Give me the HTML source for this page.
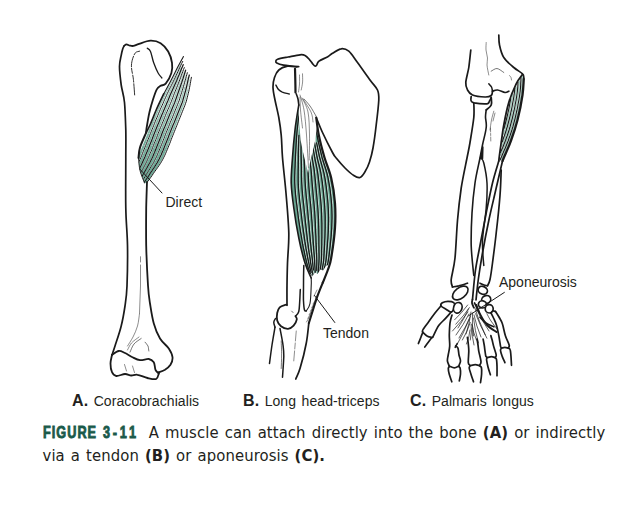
<!DOCTYPE html>
<html lang="en">
<head>
<meta charset="utf-8">
<title>Figure 3-11</title>
<style>
html,body{margin:0;padding:0;background:#fff;}
body{width:632px;height:515px;position:relative;overflow:hidden;font-family:"Liberation Sans",sans-serif;color:#231f20;}
svg{position:absolute;left:0;top:0;display:block;}
.lbl{position:absolute;font-size:14px;line-height:14px;white-space:nowrap;}
.sub{position:absolute;font-size:14px;line-height:16px;white-space:nowrap;word-spacing:1.5px;letter-spacing:0.08px;}
.sub b{font-size:16px;}
.cap{position:absolute;font-family:"DejaVu Sans Condensed","DejaVu Sans","Liberation Sans",sans-serif;font-size:16.5px;line-height:23px;white-space:nowrap;letter-spacing:0.1px;word-spacing:1.2px;}
.fig{position:absolute;left:43px;top:420.75px;-webkit-text-stroke:0.9px #1a5a4a;font-family:"Liberation Sans",sans-serif;font-weight:bold;color:#1a5a4a;font-size:17px;line-height:23px;letter-spacing:1.4px;white-space:nowrap;transform:scaleX(0.745);transform-origin:left center;}
</style>
</head>
<body>
<svg width="632" height="515" viewBox="0 0 632 515" stroke-linecap="round" stroke-linejoin="round">
<clipPath id="cA"><path d="M183.4 56.6L183.1 57.2L182.7 57.8L182.4 58.4L182.1 59.0L181.7 59.6L181.4 60.2L181.1 60.8L180.7 61.4L180.4 62.0L180.1 62.7L179.8 63.3L179.4 63.9L179.1 64.5L178.8 65.1L178.4 65.7L178.1 66.3L177.8 66.9L177.5 67.5L177.2 68.1L176.9 68.8L176.5 69.4L176.2 70.0L175.9 70.6L175.6 71.2L175.3 71.9L175.0 72.5L174.7 73.1L174.4 73.7L174.1 74.3L173.8 75.0L173.5 75.6L173.2 76.2L172.9 76.8L172.6 77.4L172.3 78.0L171.9 78.7L171.6 79.3L171.3 79.9L171.0 80.5L170.7 81.1L170.3 81.7L170.0 82.3L169.7 82.9L169.3 83.5L169.0 84.1L168.7 84.7L168.3 85.3L168.0 85.9L167.6 86.5L167.3 87.1L167.0 87.7L166.6 88.3L166.3 88.9L166.0 89.5L165.6 90.2L165.3 90.8L165.0 91.4L164.7 92.0L164.3 92.6L164.0 93.2L163.7 93.8L163.4 94.4L163.1 95.1L162.8 95.7L162.5 96.3L162.2 96.9L161.9 97.5L161.6 98.2L161.3 98.8L161.0 99.4L160.7 100.0L160.4 100.7L160.1 101.3L159.9 101.9L159.6 102.6L159.3 103.2L159.0 103.8L158.7 104.4L158.4 105.1L158.2 105.7L157.9 106.3L157.6 107.0L157.3 107.6L157.0 108.2L156.8 108.9L156.5 109.5L156.2 110.1L155.9 110.8L155.6 111.4L155.4 112.0L155.1 112.7L154.8 113.3L154.6 113.9L154.3 114.6L154.0 115.2L153.8 115.9L153.5 116.5L153.3 117.1L153.0 117.8L152.7 118.4L152.5 119.0L152.2 119.7L152.0 120.3L151.7 121.0L151.4 121.6L151.2 122.2L150.9 122.9L150.6 123.5L150.4 124.2L150.1 124.8L149.8 125.4L149.5 126.0L149.2 126.7L148.9 127.3L148.6 127.9L148.3 128.5L147.9 129.1L147.6 129.7L147.3 130.3L147.0 130.9L146.7 131.6L146.4 132.2L146.1 132.8L145.8 133.5L145.5 134.1L145.3 134.7L145.0 135.3L144.7 136.0L144.4 136.6L144.1 137.2L143.8 137.9L143.6 138.5L143.3 139.1L143.0 139.8L142.7 140.4L142.5 141.0L142.2 141.7L141.9 142.3L141.7 142.9L141.4 143.6L141.2 144.2L140.9 144.9L140.7 145.5L140.4 146.2L140.2 146.8L140.0 147.5L139.8 148.1L139.6 148.8L139.4 149.5L139.3 150.1L139.1 150.8L139.0 151.5L138.9 152.2L138.8 152.9L138.7 153.5L138.6 154.2L138.6 154.9L138.5 155.6L138.5 156.3L138.5 157.0L138.5 157.7L138.5 158.4L138.5 159.1L138.5 159.7L138.6 160.4L138.6 161.1L138.7 161.8L138.7 162.5L138.8 163.2L138.8 163.9L138.9 164.6L139.0 165.2L139.1 165.9L139.2 166.6L139.3 167.3L139.5 168.0L139.6 168.6L139.7 169.3L139.9 170.0L140.0 170.7L140.2 171.3L140.4 172.0L140.6 172.7L140.8 173.3L141.0 174.0L141.3 174.6L141.5 175.3L141.7 175.9L142.0 176.6L142.2 177.2L142.5 177.9L142.7 178.5L143.0 179.1L143.2 179.8L143.5 180.4L143.7 181.1L144.0 181.7L144.3 182.4L144.5 183.0L210 183L210 50Z"/></clipPath>
<g clip-path="url(#cA)">
<path d="M175.8 73.4L174.9 75.4L173.9 77.4L172.9 79.4" fill="none" stroke="#a8cec2" stroke-width="1.00" stroke-linecap="butt"/>
<path d="M172.9 79.4L171.9 81.4L170.9 83.4L169.8 85.4" fill="none" stroke="#a4cbbf" stroke-width="1.06" stroke-linecap="butt"/>
<path d="M169.8 85.4L168.8 87.4L167.7 89.4L166.7 91.4" fill="none" stroke="#9fc8bb" stroke-width="1.15" stroke-linecap="butt"/>
<path d="M166.7 91.4L165.7 93.4L164.7 95.4L163.8 97.4" fill="none" stroke="#9ac5b8" stroke-width="1.23" stroke-linecap="butt"/>
<path d="M163.8 97.4L162.9 99.4L162.0 101.4L161.1 103.4" fill="none" stroke="#96c2b4" stroke-width="1.32" stroke-linecap="butt"/>
<path d="M161.1 103.4L160.2 105.4L159.3 107.4L158.4 109.4" fill="none" stroke="#91bfb0" stroke-width="1.41" stroke-linecap="butt"/>
<path d="M158.4 109.4L157.6 111.4L156.7 113.4L155.9 115.4" fill="none" stroke="#8cbcad" stroke-width="1.49" stroke-linecap="butt"/>
<path d="M155.9 115.4L155.0 117.4L154.2 119.4L153.4 121.4" fill="none" stroke="#87b9a9" stroke-width="1.58" stroke-linecap="butt"/>
<path d="M153.4 121.4L152.6 123.4L151.8 125.4L151.0 127.4" fill="none" stroke="#82b6a6" stroke-width="1.66" stroke-linecap="butt"/>
<path d="M151.0 127.4L150.1 129.4L149.3 131.4L148.6 133.4" fill="none" stroke="#7eb3a2" stroke-width="1.75" stroke-linecap="butt"/>
<path d="M148.6 133.4L147.8 135.4L147.0 137.4L146.2 139.4" fill="none" stroke="#79b09e" stroke-width="1.83" stroke-linecap="butt"/>
<path d="M146.2 139.4L145.4 141.4L144.6 143.4L143.8 145.4" fill="none" stroke="#74ad9b" stroke-width="1.92" stroke-linecap="butt"/>
<path d="M143.8 145.4L143.0 147.4L142.2 149.4" fill="none" stroke="#70ab98" stroke-width="2.00" stroke-linecap="butt"/>
<path d="M142.3 149.0L141.5 151.0L140.7 153.0L139.9 155.0L139.1 157.0L138.3 159.0L137.5 161.0L136.6 163.0L135.8 165.0L135.0 167.0L134.1 169.0L133.3 171.0L132.4 173.0L131.6 175.0L130.8 177.0L129.9 179.0L129.1 181.0L128.2 183.0L127.4 185.0" fill="none" stroke="#70ab98" stroke-width="2.0" stroke-linecap="butt"/>
<path d="M180.7 63.4L179.7 65.4L178.7 67.4L177.7 69.4L176.7 71.4L175.8 73.4" fill="none" stroke="#c4ddd5" stroke-width="1.1" stroke-linecap="butt"/>
<path d="M176.9 76.7L176.0 78.7L175.1 80.7L174.2 82.7" fill="none" stroke="#a6cdc0" stroke-width="1.02" stroke-linecap="butt"/>
<path d="M174.2 82.7L173.3 84.7L172.3 86.7L171.3 88.7" fill="none" stroke="#a1cabd" stroke-width="1.11" stroke-linecap="butt"/>
<path d="M171.3 88.7L170.4 90.7L169.5 92.7L168.6 94.7" fill="none" stroke="#9dc7b9" stroke-width="1.20" stroke-linecap="butt"/>
<path d="M168.6 94.7L167.7 96.7L166.9 98.7L166.0 100.7" fill="none" stroke="#98c4b6" stroke-width="1.28" stroke-linecap="butt"/>
<path d="M166.0 100.7L165.2 102.7L164.3 104.7L163.4 106.7" fill="none" stroke="#93c1b2" stroke-width="1.37" stroke-linecap="butt"/>
<path d="M163.4 106.7L162.6 108.7L161.7 110.7L160.8 112.7" fill="none" stroke="#8ebeae" stroke-width="1.45" stroke-linecap="butt"/>
<path d="M160.8 112.7L160.0 114.7L159.2 116.7L158.4 118.7" fill="none" stroke="#89bbab" stroke-width="1.54" stroke-linecap="butt"/>
<path d="M158.4 118.7L157.5 120.7L156.7 122.7L155.9 124.7" fill="none" stroke="#85b8a7" stroke-width="1.62" stroke-linecap="butt"/>
<path d="M155.9 124.7L155.1 126.7L154.3 128.7L153.5 130.7" fill="none" stroke="#80b5a4" stroke-width="1.71" stroke-linecap="butt"/>
<path d="M153.5 130.7L152.7 132.7L151.9 134.7L151.1 136.7" fill="none" stroke="#7bb2a0" stroke-width="1.80" stroke-linecap="butt"/>
<path d="M151.1 136.7L150.3 138.7L149.5 140.7L148.7 142.7" fill="none" stroke="#76af9c" stroke-width="1.88" stroke-linecap="butt"/>
<path d="M148.7 142.7L147.9 144.7L147.1 146.7L146.3 148.7" fill="none" stroke="#71ac99" stroke-width="1.97" stroke-linecap="butt"/>
<path d="M146.3 148.7L145.5 150.7" fill="none" stroke="#70ab98" stroke-width="2.00" stroke-linecap="butt"/>
<path d="M146.2 149.0L145.4 151.0L144.6 153.0L143.8 155.0L142.9 157.0L142.1 159.0L141.2 161.0L140.3 163.0L139.4 165.0L138.5 167.0L137.6 169.0L136.6 171.0L135.7 173.0L134.8 175.0L133.9 177.0L132.9 179.0L132.0 181.0L131.0 183.0L130.1 185.0" fill="none" stroke="#70ab98" stroke-width="2.0" stroke-linecap="butt"/>
<path d="M181.3 66.7L180.4 68.7L179.5 70.7L178.6 72.7L177.8 74.7L176.9 76.7" fill="none" stroke="#c4ddd5" stroke-width="1.1" stroke-linecap="butt"/>
<path d="M178.4 79.6L177.6 81.6L176.8 83.6L176.0 85.6" fill="none" stroke="#a4cbbf" stroke-width="1.07" stroke-linecap="butt"/>
<path d="M176.0 85.6L175.1 87.6L174.2 89.6L173.4 91.6" fill="none" stroke="#9fc8bb" stroke-width="1.15" stroke-linecap="butt"/>
<path d="M173.4 91.6L172.6 93.6L171.8 95.6L171.0 97.6" fill="none" stroke="#9ac5b8" stroke-width="1.24" stroke-linecap="butt"/>
<path d="M171.0 97.6L170.2 99.6L169.4 101.6L168.6 103.6" fill="none" stroke="#95c2b4" stroke-width="1.32" stroke-linecap="butt"/>
<path d="M168.6 103.6L167.7 105.6L166.9 107.6L166.0 109.6" fill="none" stroke="#91bfb0" stroke-width="1.41" stroke-linecap="butt"/>
<path d="M166.0 109.6L165.2 111.6L164.3 113.6L163.5 115.6" fill="none" stroke="#8cbcad" stroke-width="1.49" stroke-linecap="butt"/>
<path d="M163.5 115.6L162.7 117.6L161.9 119.6L161.0 121.6" fill="none" stroke="#87b9a9" stroke-width="1.58" stroke-linecap="butt"/>
<path d="M161.0 121.6L160.2 123.6L159.4 125.6L158.6 127.6" fill="none" stroke="#82b6a6" stroke-width="1.67" stroke-linecap="butt"/>
<path d="M158.6 127.6L157.8 129.6L157.0 131.6L156.2 133.6" fill="none" stroke="#7db3a2" stroke-width="1.75" stroke-linecap="butt"/>
<path d="M156.2 133.6L155.4 135.6L154.6 137.6L153.8 139.6" fill="none" stroke="#79b09e" stroke-width="1.84" stroke-linecap="butt"/>
<path d="M153.8 139.6L153.0 141.6L152.3 143.6L151.5 145.6" fill="none" stroke="#74ad9b" stroke-width="1.92" stroke-linecap="butt"/>
<path d="M151.5 145.6L150.7 147.6L149.9 149.6" fill="none" stroke="#70ab98" stroke-width="2.00" stroke-linecap="butt"/>
<path d="M150.1 149.0L149.3 151.0L148.4 153.0L147.6 155.0L146.8 157.0L145.9 159.0L145.0 161.0L144.0 163.0L143.1 165.0L142.1 167.0L141.0 169.0L140.0 171.0L139.0 173.0L138.0 175.0L137.0 177.0L136.0 179.0L134.9 181.0L133.9 183.0L132.8 185.0" fill="none" stroke="#70ab98" stroke-width="2.0" stroke-linecap="butt"/>
<path d="M182.3 69.6L181.6 71.6L180.8 73.6L180.0 75.6L179.2 77.6L178.4 79.6" fill="none" stroke="#c4ddd5" stroke-width="1.1" stroke-linecap="butt"/>
<path d="M180.3 82.2L179.6 84.2L178.8 86.2L178.1 88.2" fill="none" stroke="#a2cabd" stroke-width="1.10" stroke-linecap="butt"/>
<path d="M178.1 88.2L177.3 90.2L176.6 92.2L175.8 94.2" fill="none" stroke="#9dc7ba" stroke-width="1.19" stroke-linecap="butt"/>
<path d="M175.8 94.2L175.1 96.2L174.3 98.2L173.6 100.2" fill="none" stroke="#98c4b6" stroke-width="1.27" stroke-linecap="butt"/>
<path d="M173.6 100.2L172.9 102.2L172.1 104.2L171.2 106.2" fill="none" stroke="#93c1b2" stroke-width="1.36" stroke-linecap="butt"/>
<path d="M171.2 106.2L170.4 108.2L169.6 110.2L168.7 112.2" fill="none" stroke="#8fbeaf" stroke-width="1.45" stroke-linecap="butt"/>
<path d="M168.7 112.2L167.9 114.2L167.1 116.2L166.3 118.2" fill="none" stroke="#8abbab" stroke-width="1.53" stroke-linecap="butt"/>
<path d="M166.3 118.2L165.5 120.2L164.6 122.2L163.8 124.2" fill="none" stroke="#85b8a8" stroke-width="1.62" stroke-linecap="butt"/>
<path d="M163.8 124.2L163.0 126.2L162.2 128.2L161.4 130.2" fill="none" stroke="#80b5a4" stroke-width="1.70" stroke-linecap="butt"/>
<path d="M161.4 130.2L160.6 132.2L159.8 134.2L159.0 136.2" fill="none" stroke="#7bb2a0" stroke-width="1.79" stroke-linecap="butt"/>
<path d="M159.0 136.2L158.2 138.2L157.5 140.2L156.7 142.2" fill="none" stroke="#77af9d" stroke-width="1.87" stroke-linecap="butt"/>
<path d="M156.7 142.2L155.9 144.2L155.1 146.2L154.3 148.2" fill="none" stroke="#72ac99" stroke-width="1.96" stroke-linecap="butt"/>
<path d="M154.3 148.2L153.5 150.2" fill="none" stroke="#70ab98" stroke-width="2.00" stroke-linecap="butt"/>
<path d="M154.0 149.0L153.1 151.0L152.3 153.0L151.5 155.0L150.6 157.0L149.7 159.0L148.7 161.0L147.7 163.0L146.7 165.0L145.6 167.0L144.5 169.0L143.4 171.0L142.3 173.0L141.2 175.0L140.1 177.0L139.0 179.0L137.8 181.0L136.7 183.0L135.5 185.0" fill="none" stroke="#70ab98" stroke-width="2.0" stroke-linecap="butt"/>
<path d="M183.8 72.2L183.1 74.2L182.4 76.2L181.7 78.2L181.0 80.2L180.3 82.2" fill="none" stroke="#c4ddd5" stroke-width="1.1" stroke-linecap="butt"/>
<path d="M182.5 84.7L181.8 86.7L181.2 88.7L180.5 90.7" fill="none" stroke="#a0c9bc" stroke-width="1.14" stroke-linecap="butt"/>
<path d="M180.5 90.7L179.8 92.7L179.2 94.7L178.5 96.7" fill="none" stroke="#9bc6b8" stroke-width="1.22" stroke-linecap="butt"/>
<path d="M178.5 96.7L177.8 98.7L177.2 100.7L176.5 102.7" fill="none" stroke="#96c3b4" stroke-width="1.31" stroke-linecap="butt"/>
<path d="M176.5 102.7L175.7 104.7L174.8 106.7L174.0 108.7" fill="none" stroke="#91c0b1" stroke-width="1.40" stroke-linecap="butt"/>
<path d="M174.0 108.7L173.2 110.7L172.4 112.7L171.6 114.7" fill="none" stroke="#8dbdad" stroke-width="1.48" stroke-linecap="butt"/>
<path d="M171.6 114.7L170.7 116.7L169.9 118.7L169.1 120.7" fill="none" stroke="#88baaa" stroke-width="1.57" stroke-linecap="butt"/>
<path d="M169.1 120.7L168.3 122.7L167.5 124.7L166.7 126.7" fill="none" stroke="#83b7a6" stroke-width="1.65" stroke-linecap="butt"/>
<path d="M166.7 126.7L165.9 128.7L165.1 130.7L164.3 132.7" fill="none" stroke="#7eb4a2" stroke-width="1.74" stroke-linecap="butt"/>
<path d="M164.3 132.7L163.5 134.7L162.7 136.7L161.9 138.7" fill="none" stroke="#79b19f" stroke-width="1.82" stroke-linecap="butt"/>
<path d="M161.9 138.7L161.1 140.7L160.3 142.7L159.6 144.7" fill="none" stroke="#75ae9b" stroke-width="1.91" stroke-linecap="butt"/>
<path d="M159.6 144.7L158.8 146.7L158.0 148.7L157.1 150.7" fill="none" stroke="#70ab98" stroke-width="2.00" stroke-linecap="butt"/>
<path d="M157.8 149.0L157.0 151.0L156.2 153.0L155.3 155.0L154.4 157.0L153.5 159.0L152.5 161.0L151.4 163.0L150.3 165.0L149.2 167.0L148.0 169.0L146.7 171.0L145.6 173.0L144.4 175.0L143.2 177.0L142.0 179.0L140.8 181.0L139.5 183.0L138.2 185.0" fill="none" stroke="#70ab98" stroke-width="2.0" stroke-linecap="butt"/>
<path d="M185.5 74.7L184.9 76.7L184.3 78.7L183.7 80.7L183.1 82.7L182.5 84.7" fill="none" stroke="#c4ddd5" stroke-width="1.1" stroke-linecap="butt"/>
<path d="M184.9 87.0L184.3 89.0L183.8 91.0L183.2 93.0" fill="none" stroke="#9ec7ba" stroke-width="1.17" stroke-linecap="butt"/>
<path d="M183.2 93.0L182.6 95.0L182.0 97.0L181.4 99.0" fill="none" stroke="#99c4b7" stroke-width="1.26" stroke-linecap="butt"/>
<path d="M181.4 99.0L180.8 101.0L180.1 103.0L179.3 105.0" fill="none" stroke="#94c1b3" stroke-width="1.34" stroke-linecap="butt"/>
<path d="M179.3 105.0L178.5 107.0L177.7 109.0L176.9 111.0" fill="none" stroke="#8fbeaf" stroke-width="1.43" stroke-linecap="butt"/>
<path d="M176.9 111.0L176.1 113.0L175.3 115.0L174.5 117.0" fill="none" stroke="#8bbbac" stroke-width="1.51" stroke-linecap="butt"/>
<path d="M174.5 117.0L173.6 119.0L172.8 121.0L172.0 123.0" fill="none" stroke="#86b8a8" stroke-width="1.60" stroke-linecap="butt"/>
<path d="M172.0 123.0L171.2 125.0L170.4 127.0L169.6 129.0" fill="none" stroke="#81b5a5" stroke-width="1.69" stroke-linecap="butt"/>
<path d="M169.6 129.0L168.8 131.0L168.0 133.0L167.2 135.0" fill="none" stroke="#7cb2a1" stroke-width="1.77" stroke-linecap="butt"/>
<path d="M167.2 135.0L166.4 137.0L165.6 139.0L164.9 141.0" fill="none" stroke="#77af9d" stroke-width="1.86" stroke-linecap="butt"/>
<path d="M164.9 141.0L164.1 143.0L163.3 145.0L162.5 147.0" fill="none" stroke="#73ac9a" stroke-width="1.94" stroke-linecap="butt"/>
<path d="M162.5 147.0L161.7 149.0" fill="none" stroke="#70ab98" stroke-width="2.00" stroke-linecap="butt"/>
<path d="M161.7 149.0L160.9 151.0L160.0 153.0L159.2 155.0L158.2 157.0L157.3 159.0L156.3 161.0L155.1 163.0L154.0 165.0L152.7 167.0L151.4 169.0L150.1 171.0L148.8 173.0L147.6 175.0L146.3 177.0L145.0 179.0L143.7 181.0L142.3 183.0L140.9 185.0" fill="none" stroke="#70ab98" stroke-width="2.0" stroke-linecap="butt"/>
<path d="M187.4 77.0L186.9 79.0L186.4 81.0L185.9 83.0L185.4 85.0L184.9 87.0" fill="none" stroke="#c4ddd5" stroke-width="1.1" stroke-linecap="butt"/>
<path d="M187.6 89.3L187.1 91.3L186.6 93.3L186.1 95.3" fill="none" stroke="#9cc6b9" stroke-width="1.20" stroke-linecap="butt"/>
<path d="M186.1 95.3L185.5 97.3L185.0 99.3L184.5 101.3" fill="none" stroke="#97c3b5" stroke-width="1.29" stroke-linecap="butt"/>
<path d="M184.5 101.3L183.8 103.3L183.0 105.3L182.2 107.3" fill="none" stroke="#92c0b2" stroke-width="1.38" stroke-linecap="butt"/>
<path d="M182.2 107.3L181.4 109.3L180.6 111.3L179.8 113.3" fill="none" stroke="#8ebdae" stroke-width="1.46" stroke-linecap="butt"/>
<path d="M179.8 113.3L179.0 115.3L178.2 117.3L177.4 119.3" fill="none" stroke="#89baab" stroke-width="1.55" stroke-linecap="butt"/>
<path d="M177.4 119.3L176.6 121.3L175.8 123.3L175.0 125.3" fill="none" stroke="#84b7a7" stroke-width="1.63" stroke-linecap="butt"/>
<path d="M175.0 125.3L174.2 127.3L173.4 129.3L172.5 131.3" fill="none" stroke="#7fb4a3" stroke-width="1.72" stroke-linecap="butt"/>
<path d="M172.5 131.3L171.8 133.3L171.0 135.3L170.2 137.3" fill="none" stroke="#7ab1a0" stroke-width="1.80" stroke-linecap="butt"/>
<path d="M170.2 137.3L169.4 139.3L168.6 141.3L167.8 143.3" fill="none" stroke="#76ae9c" stroke-width="1.89" stroke-linecap="butt"/>
<path d="M167.8 143.3L167.1 145.3L166.3 147.3L165.4 149.3" fill="none" stroke="#71ab99" stroke-width="1.98" stroke-linecap="butt"/>
<path d="M165.4 149.3" fill="none" stroke="#70ab98" stroke-width="2.00" stroke-linecap="butt"/>
<path d="M165.6 149.0L164.7 151.0L163.9 153.0L163.0 155.0L162.1 157.0L161.1 159.0L160.0 161.0L158.8 163.0L157.6 165.0L156.3 167.0L154.9 169.0L153.5 171.0L152.1 173.0L150.8 175.0L149.4 177.0L148.0 179.0L146.6 181.0L145.1 183.0L143.6 185.0" fill="none" stroke="#70ab98" stroke-width="2.0" stroke-linecap="butt"/>
<path d="M189.6 79.3L189.2 81.3L188.9 83.3L188.5 85.3L188.0 87.3L187.6 89.3" fill="none" stroke="#c4ddd5" stroke-width="1.1" stroke-linecap="butt"/>
<path d="M182.7 61.4L181.7 63.4L180.8 65.4L179.8 67.4L178.9 69.4L178.0 71.4L177.1 73.4L176.2 75.4L175.3 77.4L174.3 79.4L173.4 81.4L172.4 83.4L171.4 85.4L170.4 87.4L169.3 89.4L168.4 91.4L167.4 93.4L166.5 95.4L165.6 97.4L164.7 99.4L163.8 101.4L163.0 103.4L162.1 105.4L161.2 107.4L160.3 109.4L159.5 111.4L158.6 113.4L157.8 115.4L157.0 117.4L156.1 119.4L155.3 121.4L154.5 123.4L153.7 125.4L152.9 127.4L152.1 129.4L151.3 131.4L150.5 133.4L149.7 135.4L148.9 137.4L148.1 139.4L147.3 141.4L146.5 143.4L145.7 145.4L144.9 147.4L144.1 149.4L143.3 151.4L142.5 153.4L141.7 155.4L140.9 157.4L140.0 159.4L139.2 161.4L138.3 163.4L137.4 165.4L136.6 167.4L135.7 169.4L134.8 171.4L133.9 173.4L133.0 175.4L132.1 177.4L131.2 179.4L130.3 181.4L129.4 183.4L128.5 185.4" fill="none" stroke="#1a1a1a" stroke-width="1.0" />
<path d="M183.2 64.7L182.4 66.7L181.5 68.7L180.7 70.7L179.9 72.7L179.1 74.7L178.2 76.7L177.4 78.7L176.6 80.7L175.7 82.7L174.8 84.7L173.9 86.7L173.0 88.7L172.1 90.7L171.2 92.7L170.3 94.7L169.5 96.7L168.7 98.7L167.9 100.7L167.0 102.7L166.2 104.7L165.3 106.7L164.5 108.7L163.6 110.7L162.8 112.7L161.9 114.7L161.1 116.7L160.3 118.7L159.5 120.7L158.7 122.7L157.8 124.7L157.0 126.7L156.2 128.7L155.4 130.7L154.6 132.7L153.8 134.7L153.0 136.7L152.3 138.7L151.5 140.7L150.7 142.7L149.9 144.7L149.1 146.7L148.3 148.7L147.5 150.7L146.6 152.7L145.8 154.7L145.0 156.7L144.1 158.7L143.2 160.7L142.3 162.7L141.4 164.7L140.4 166.7L139.5 168.7L138.5 170.7L137.5 172.7L136.5 174.7L135.6 176.7L134.6 178.7L133.6 180.7L132.6 182.7L131.6 184.7" fill="none" stroke="#1a1a1a" stroke-width="1.25" />
<path d="M184.3 67.6L183.5 69.6L182.8 71.6L182.0 73.6L181.3 75.6L180.6 77.6L179.8 79.6L179.1 81.6L178.3 83.6L177.5 85.6L176.7 87.6L175.9 89.6L175.1 91.6L174.3 93.6L173.5 95.6L172.8 97.6L172.0 99.6L171.3 101.6L170.4 103.6L169.6 105.6L168.8 107.6L167.9 109.6L167.1 111.6L166.2 113.6L165.4 115.6L164.6 117.6L163.8 119.6L163.0 121.6L162.2 123.6L161.4 125.6L160.5 127.6L159.7 129.6L158.9 131.6L158.1 133.6L157.4 135.6L156.6 137.6L155.8 139.6L155.0 141.6L154.2 143.6L153.4 145.6L152.6 147.6L151.8 149.6L151.0 151.6L150.1 153.6L149.3 155.6L148.4 157.6L147.5 159.6L146.6 161.6L145.6 163.6L144.6 165.6L143.5 167.6L142.5 169.6L141.4 171.6L140.3 173.6L139.3 175.6L138.2 177.6L137.2 179.6L136.1 181.6L134.9 183.6L133.8 185.6" fill="none" stroke="#1a1a1a" stroke-width="1.0" />
<path d="M185.6 70.2L185.0 72.2L184.4 74.2L183.7 76.2L183.1 78.2L182.4 80.2L181.8 82.2L181.1 84.2L180.4 86.2L179.7 88.2L179.0 90.2L178.3 92.2L177.6 94.2L176.9 96.2L176.2 98.2L175.5 100.2L174.8 102.2L174.0 104.2L173.1 106.2L172.3 108.2L171.5 110.2L170.7 112.2L169.8 114.2L169.0 116.2L168.2 118.2L167.4 120.2L166.6 122.2L165.8 124.2L165.0 126.2L164.1 128.2L163.3 130.2L162.5 132.2L161.7 134.2L161.0 136.2L160.2 138.2L159.4 140.2L158.6 142.2L157.8 144.2L157.0 146.2L156.2 148.2L155.4 150.2L154.6 152.2L153.7 154.2L152.9 156.2L152.0 158.2L151.0 160.2L150.0 162.2L148.9 164.2L147.8 166.2L146.7 168.2L145.5 170.2L144.4 172.2L143.2 174.2L142.1 176.2L141.0 178.2L139.8 180.2L138.6 182.2L137.3 184.2" fill="none" stroke="#1a1a1a" stroke-width="1.25" />
<path d="M187.3 72.7L186.8 74.7L186.2 76.7L185.7 78.7L185.1 80.7L184.5 82.7L184.0 84.7L183.4 86.7L182.8 88.7L182.2 90.7L181.6 92.7L180.9 94.7L180.3 96.7L179.7 98.7L179.1 100.7L178.3 102.7L177.5 104.7L176.7 106.7L175.9 108.7L175.1 110.7L174.3 112.7L173.5 114.7L172.7 116.7L171.9 118.7L171.0 120.7L170.2 122.7L169.4 124.7L168.6 126.7L167.8 128.7L167.0 130.7L166.2 132.7L165.4 134.7L164.6 136.7L163.9 138.7L163.1 140.7L162.3 142.7L161.5 144.7L160.7 146.7L159.9 148.7L159.1 150.7L158.2 152.7L157.4 154.7L156.5 156.7L155.5 158.7L154.5 160.7L153.5 162.7L152.3 164.7L151.1 166.7L149.9 168.7L148.6 170.7L147.4 172.7L146.2 174.7L145.0 176.7L143.7 178.7L142.4 180.7L141.1 182.7L139.8 184.7" fill="none" stroke="#1a1a1a" stroke-width="1.0" />
<path d="M189.3 75.0L188.8 77.0L188.3 79.0L187.9 81.0L187.4 83.0L187.0 85.0L186.5 87.0L186.0 89.0L185.5 91.0L184.9 93.0L184.4 95.0L183.8 97.0L183.2 99.0L182.7 101.0L182.0 103.0L181.2 105.0L180.4 107.0L179.6 109.0L178.8 111.0L178.0 113.0L177.2 115.0L176.4 117.0L175.6 119.0L174.8 121.0L174.0 123.0L173.1 125.0L172.3 127.0L171.5 129.0L170.7 131.0L169.9 133.0L169.1 135.0L168.4 137.0L167.6 139.0L166.8 141.0L166.0 143.0L165.2 145.0L164.4 147.0L163.6 149.0L162.8 151.0L161.9 153.0L161.1 155.0L160.1 157.0L159.2 159.0L158.1 161.0L157.0 163.0L155.7 165.0L154.5 167.0L153.1 169.0L151.8 171.0L150.4 173.0L149.2 175.0L147.9 177.0L146.5 179.0L145.1 181.0L143.7 183.0L142.2 185.0" fill="none" stroke="#1a1a1a" stroke-width="1.25" />
<path d="M191.4 77.3L191.0 79.3L190.7 81.3L190.3 83.3L190.0 85.3L189.6 87.3L189.2 89.3L188.8 91.3L188.3 93.3L187.8 95.3L187.3 97.3L186.8 99.3L186.3 101.3L185.6 103.3L184.9 105.3L184.1 107.3L183.3 109.3L182.5 111.3L181.7 113.3L180.9 115.3L180.1 117.3L179.3 119.3L178.5 121.3L177.7 123.3L176.9 125.3L176.1 127.3L175.3 129.3L174.5 131.3L173.7 133.3L172.9 135.3L172.1 137.3L171.3 139.3L170.6 141.3L169.8 143.3L169.0 145.3L168.2 147.3L167.4 149.3L166.5 151.3L165.7 153.3L164.8 155.3L163.8 157.3L162.8 159.3L161.7 161.3L160.5 163.3L159.2 165.3L157.8 167.3L156.4 169.3L154.9 171.3L153.5 173.3L152.2 175.3L150.8 177.3L149.3 179.3L147.8 181.3L146.3 183.3L144.7 185.3" fill="none" stroke="#1a1a1a" stroke-width="1.0" />
</g>
<path d="M183.4 56.6C182.4 58.4 179.5 63.6 177.5 67.5C175.5 71.4 173.5 75.6 171.2 80.0C169.0 84.4 165.0 91.5 163.8 93.8" fill="none" stroke="#1a1a1a" stroke-width="1.1" />
<path d="M163.8 93.8C162.5 96.5 158.5 104.8 156.2 110.0C154.0 115.2 151.7 121.2 150.0 125.0C148.3 128.8 146.9 131.2 146.2 132.5" fill="none" stroke="#1a1a1a" stroke-width="1.7" />
<path d="M146.2 132.5C145.2 135.0 141.3 143.2 140.0 147.5C138.7 151.8 138.8 156.2 138.5 158.0" fill="none" stroke="#1a1a1a" stroke-width="2.0" />
<path d="M138.5 158.0C138.8 160.1 139.0 166.3 140.0 170.5C141.0 174.7 143.8 180.9 144.5 183.0" fill="none" stroke="#1a1a1a" stroke-width="0.9" />
<path d="M112.0 354.8C112.5 353.3 113.5 350.8 115.0 346.0C116.5 341.2 119.6 332.7 121.2 326.0C122.9 319.3 124.0 312.7 125.0 306.0C126.0 299.3 126.6 296.1 127.0 286.0C127.4 275.9 127.7 258.5 127.5 245.5C127.3 232.5 126.0 222.6 125.8 208.0C125.5 193.4 125.8 171.0 125.8 158.0C125.8 145.0 126.0 139.2 125.8 130.0C125.5 120.8 125.2 110.0 124.5 102.5C123.8 95.0 122.1 91.0 121.2 85.0C120.4 79.0 119.5 71.5 119.5 66.6C119.5 61.6 120.7 58.2 121.2 55.3C121.7 52.3 122.2 50.5 122.7 48.9C123.2 47.3 124.0 46.3 124.2 45.8" fill="none" stroke="#1a1a1a" stroke-width="1.7" />
<path d="M124.2 45.8C124.6 45.6 125.5 44.4 126.5 44.4C127.5 44.4 128.8 45.4 130.0 45.6C131.2 45.9 131.9 46.2 133.4 45.9C134.9 45.6 136.2 44.8 139.1 43.9C141.9 43.0 146.9 40.8 150.5 40.7C154.1 40.6 157.7 41.4 160.6 43.2C163.5 45.0 166.3 48.2 168.2 51.5C170.1 54.8 171.5 59.2 172.0 62.8C172.5 66.4 172.5 69.5 171.4 73.0C170.3 76.5 167.5 81.6 165.7 83.7C163.9 85.8 162.1 84.8 160.6 85.8C159.1 86.8 158.1 87.1 156.8 89.4C155.5 91.7 154.2 95.8 153.0 99.6C151.8 103.4 150.4 108.2 149.5 112.0C148.6 115.8 148.1 119.1 147.5 122.5C146.9 125.9 146.2 130.8 146.0 132.5" fill="none" stroke="#1a1a1a" stroke-width="1.8" />
<path d="M147.0 181.8C146.9 186.1 146.4 197.4 146.2 208.0C146.1 218.6 146.0 232.6 146.2 245.5C146.5 258.4 147.4 275.8 148.0 285.5C148.6 295.2 149.0 297.2 150.0 303.5C151.0 309.8 152.1 317.7 153.8 323.5C155.4 329.3 157.5 334.3 160.0 338.5C162.5 342.7 166.7 345.4 168.8 348.5C170.8 351.6 172.2 354.5 172.5 357.2C172.8 360.0 171.8 362.7 170.5 364.8C169.2 366.8 167.0 368.5 165.0 369.8C163.0 371.0 159.8 371.8 158.8 372.2" fill="none" stroke="#1a1a1a" stroke-width="1.8" />
<path d="M112.0 354.8C111.8 356.2 110.5 360.6 110.5 363.5C110.5 366.4 111.0 370.2 112.0 372.2C113.0 374.3 114.1 375.7 116.2 376.0C118.4 376.3 122.5 374.1 125.0 374.0C127.5 373.9 129.2 375.4 131.2 375.5C133.3 375.6 134.8 374.3 137.5 374.8C140.2 375.2 144.4 377.3 147.5 378.0C150.6 378.7 154.4 379.8 156.2 379.0C158.1 378.2 158.3 374.4 158.8 373.5" fill="none" stroke="#1a1a1a" stroke-width="1.8" />
<path d="M112.0 354.8C113.1 354.1 116.6 351.3 118.8 351.0C120.9 350.7 122.7 352.0 125.0 353.0C127.3 354.0 130.0 356.0 132.5 357.2C135.0 358.5 137.3 360.0 140.0 360.2C142.7 360.5 146.5 358.7 148.8 359.0C151.0 359.3 152.6 360.5 153.8 362.2C154.9 364.0 154.7 367.9 155.5 369.8C156.3 371.6 158.2 372.9 158.8 373.5" fill="none" stroke="#1a1a1a" stroke-width="1.8" />
<path d="M139.7 51.2C139.0 51.5 136.6 51.4 135.3 52.9C134.1 54.4 132.8 57.8 132.2 60.3C131.6 62.8 131.3 64.7 131.5 67.9C131.7 71.1 132.9 74.7 133.4 79.3C133.9 83.9 134.5 93.0 134.7 95.8" fill="none" stroke="#1a1a1a" stroke-width="0.9" stroke-dasharray="7 1.5 11 1.5 5 2"/>
<path d="M147.3 48.3C147.8 48.8 149.4 49.1 150.5 51.5C151.6 53.9 152.4 59.2 153.7 62.8C155.0 66.4 156.7 70.5 158.1 73.0C159.5 75.5 161.3 77.2 161.9 78.0" fill="none" stroke="#1a1a1a" stroke-width="1.3" />
<path d="M140.5 256.75L140.5 262M140.5 265L140.5 286L139.5 313" fill="none" stroke="#1a1a1a" stroke-width="0.5" />
<path d="M139.5 313.5C139.2 315.6 138.6 322.1 137.5 326.0C136.4 329.9 134.7 333.7 133.0 337.0C131.3 340.3 128.4 344.5 127.5 346.0" fill="none" stroke="#1a1a1a" stroke-width="0.5" />
<path d="M141.2 338.5C140.0 339.4 135.9 341.7 134.0 344.0C132.1 346.3 130.7 350.9 130.0 352.2" fill="none" stroke="#1a1a1a" stroke-width="0.6" />
<path d="M139.0 337.0C137.8 338.0 133.4 340.8 131.5 343.0C129.6 345.2 128.2 348.8 127.5 350.0" fill="none" stroke="#1a1a1a" stroke-width="0.5" />
<path d="M145.0 342.2C145.5 342.9 147.4 344.5 148.0 346.0C148.6 347.5 148.6 350.2 148.8 351.0" fill="none" stroke="#1a1a1a" stroke-width="0.6" />
<path d="M124.5 364.5L126.5 371M132.5 366L134.5 372.5" fill="none" stroke="#1a1a1a" stroke-width="0.5" />
<path d="M140 169.25L162 193" fill="none" stroke="#1a1a1a" stroke-width="1.0" />
<path d="M316.2 117.5C317.3 120.0 319.8 126.7 322.5 132.5C325.2 138.3 330.2 148.2 332.5 152.5C334.8 156.8 334.2 155.4 336.2 158.0C338.3 160.6 342.1 165.1 345.0 168.0C347.9 170.9 351.2 173.9 353.8 175.5C356.2 177.1 358.1 178.1 360.0 177.5C361.9 176.9 363.4 174.3 365.0 171.8C366.6 169.2 368.2 166.0 369.5 162.0C370.8 158.0 371.9 154.2 373.0 148.0C374.1 141.8 375.3 133.0 376.2 125.0C377.2 117.0 378.5 105.8 378.8 100.0C379.0 94.2 379.0 93.3 377.5 90.0C376.0 86.7 373.3 84.6 370.0 80.0C366.7 75.4 361.0 67.3 357.5 62.5C354.0 57.7 351.5 53.5 348.8 51.2C346.0 49.0 344.0 48.4 341.2 48.8C338.5 49.1 334.7 52.0 332.5 53.3C330.3 54.6 330.1 55.4 327.8 56.7C325.6 58.0 320.8 59.8 319.0 61.1C317.2 62.5 317.4 63.9 316.8 64.8C316.2 65.6 315.8 66.3 315.2 66.2C314.6 66.1 314.0 65.5 313.0 64.3C312.0 63.1 310.3 60.5 309.0 59.0C307.7 57.5 306.5 56.1 305.0 55.4C303.5 54.7 302.8 54.5 300.0 54.8C297.2 55.1 291.7 56.3 288.0 57.0C284.3 57.7 279.6 58.5 277.6 59.2C275.6 59.9 276.0 60.5 275.9 61.1C275.8 61.7 275.5 62.3 276.8 63.0C278.1 63.7 281.1 64.7 283.5 65.2C285.9 65.7 288.5 65.8 291.0 66.0C293.5 66.2 297.4 66.5 298.7 66.6" fill="none" stroke="#1a1a1a" stroke-width="1.7" />
<path d="M297.0 67.0C295.4 66.9 290.5 65.8 287.5 66.2C284.5 66.8 280.9 68.1 278.8 70.0C276.6 71.9 275.5 74.6 274.5 77.5C273.5 80.4 272.9 83.8 273.0 87.5C273.1 91.2 274.0 95.0 275.0 100.0C276.0 105.0 277.7 111.7 278.8 117.5C279.8 123.3 280.6 128.3 281.2 135.0C281.9 141.7 281.7 147.4 282.5 157.5C283.3 167.6 285.2 182.9 286.2 195.5C287.3 208.1 288.5 221.8 288.8 233.0C289.0 244.2 287.8 254.2 287.5 263.0C287.2 271.8 287.1 278.5 287.0 285.5C286.9 292.5 287.0 301.5 287.0 304.8" fill="none" stroke="#1a1a1a" stroke-width="1.7" />
<path d="M275.9 85.1C276.3 85.8 277.4 88.3 278.5 89.5C279.6 90.7 280.5 91.3 282.3 92.1C284.1 92.8 288.1 93.7 289.2 94.0" fill="none" stroke="#1a1a1a" stroke-width="1.4" />
<path d="M295.0 68.8C295.1 70.6 295.2 76.0 295.3 80.0C295.4 84.0 295.5 90.4 295.5 92.5" fill="none" stroke="#1a1a1a" stroke-width="2.2" />
<path d="M302.5 73.8C302.5 75.1 302.8 79.3 302.6 82.0C302.4 84.7 301.5 88.7 301.2 90.0" fill="none" stroke="#1a1a1a" stroke-width="0.5" />
<path d="M299.5 75.0C299.5 76.5 299.7 81.2 299.5 84.0C299.3 86.8 298.7 90.7 298.5 92.0" fill="none" stroke="#1a1a1a" stroke-width="0.5" />
<path d="M298.8 105.0L298.2 108.5L297.6 112.1L297.1 115.6L296.5 119.2L296.0 122.7L295.5 126.3L295.0 129.9L294.6 133.4L294.2 137.0L293.9 140.6L293.6 144.2L293.2 147.7L293.0 151.3L292.7 154.9L292.4 158.5L292.2 162.1L291.9 165.7L291.6 169.2L291.4 172.8L291.3 176.4L291.2 180.0L291.3 183.6L291.4 187.2L291.7 190.8L292.0 194.3L292.4 197.9L292.9 201.5L293.3 205.0L293.8 208.6L294.3 212.2L294.9 215.7L295.4 219.3L296.0 222.8L296.6 226.4L297.2 229.9L297.9 233.4L298.5 237.0L299.3 240.5L300.0 244.0L300.8 247.5L301.7 251.0L302.6 254.5L303.5 257.9L304.5 261.4L305.6 264.8L306.9 268.2L308.3 271.5L309.7 274.7L311.2 278.0L322.8 282.7L324.1 279.5L325.4 276.3L326.7 273.1L327.9 269.8L329.1 266.6L330.1 263.3L330.9 260.0L331.5 256.6L332.0 253.1L332.5 249.7L333.0 246.3L333.5 242.9L333.9 239.5L334.3 236.0L334.6 232.6L334.9 229.1L335.1 225.7L335.3 222.2L335.4 218.8L335.5 215.3L335.4 211.9L335.3 208.4L335.1 205.0L334.9 201.5L334.6 198.1L334.2 194.7L333.7 191.3L333.2 187.8L332.6 184.4L331.9 181.0L331.2 177.7L330.3 174.3L329.2 171.0L328.1 167.8L326.9 164.6L325.7 161.3L324.7 158.0L323.7 154.7L322.8 151.4L321.9 148.0L321.0 144.7L320.2 141.3L319.4 138.0L318.7 134.6L318.1 131.2L317.5 127.8L317.1 124.4L316.7 120.9L316.2 117.5Z" fill="#68a591" stroke="none" stroke-width="0" />
<path d="M301.2 106.0L300.7 109.6L300.2 113.1L299.8 116.7L299.3 120.2L298.9 123.7L298.5 127.3L298.1 130.8L297.8 134.4L297.5 137.9L297.3 141.5L297.1 145.0L296.9 148.6L296.7 152.2L296.5 155.7L296.4 159.3L296.2 162.8L296.1 166.4L295.9 169.9L295.8 173.5L295.7 177.1L295.7 180.7L295.8 184.2L296.0 187.8L296.3 191.4L296.6 194.9L297.0 198.5L297.4 202.1L297.9 205.6L298.3 209.2L298.8 212.7L299.2 216.3L299.7 219.8L300.2 223.3L300.8 226.9L301.3 230.4L301.9 233.9L302.5 237.4L303.1 241.0L303.7 244.5L304.4 248.0L305.2 251.4L305.9 254.9L306.7 258.4L307.5 261.8L308.4 265.2L309.5 268.6L310.7 271.9L311.9 275.1L313.2 278.4" fill="none" stroke="#fff" stroke-width="0.7" />
<path d="M300.2 106.0L299.7 109.6L299.2 113.1L298.8 116.7L298.3 120.2L297.9 123.7L297.5 127.3L297.1 130.8L296.8 134.4L296.5 137.9L296.3 141.5L296.1 145.0L295.9 148.6L295.7 152.2L295.5 155.7L295.4 159.3L295.2 162.8L295.1 166.4L294.9 169.9L294.8 173.5L294.7 177.1L294.7 180.7L294.8 184.2L295.0 187.8L295.3 191.4L295.6 194.9L296.0 198.5L296.4 202.1L296.9 205.6L297.3 209.2L297.8 212.7L298.2 216.3L298.7 219.8L299.2 223.3L299.8 226.9L300.3 230.4L300.9 233.9L301.5 237.4L302.1 241.0L302.7 244.5L303.4 248.0L304.2 251.4L304.9 254.9L305.7 258.4L306.5 261.8L307.4 265.2L308.5 268.6L309.7 271.9L310.9 275.1L312.2 278.4" fill="none" stroke="#1a1a1a" stroke-width="1.3" />
<path d="M300.0 135.3L299.8 138.8L299.7 142.4L299.6 145.9L299.5 149.5L299.4 153.0L299.4 156.5L299.4 160.0L299.3 163.6L299.3 167.1L299.2 170.6L299.2 174.2L299.2 177.8L299.2 181.3L299.3 184.9L299.5 188.4L299.8 192.0L300.2 195.5L300.5 199.1L300.9 202.6L301.4 206.2L301.8 209.7L302.2 213.3L302.6 216.8L303.0 220.3L303.5 223.9L303.9 227.4L304.4 230.9L304.9 234.4L305.4 237.9L305.9 241.4L306.5 244.9L307.0 248.4L307.7 251.9L308.3 255.4L308.9 258.8L309.6 262.2L310.3 265.6L311.2 269.0L312.1 272.3" fill="none" stroke="#fff" stroke-width="0.7" />
<path d="M299.0 135.3L298.8 138.8L298.7 142.4L298.6 145.9L298.5 149.5L298.4 153.0L298.4 156.5L298.4 160.0L298.3 163.6L298.3 167.1L298.2 170.6L298.2 174.2L298.2 177.8L298.2 181.3L298.3 184.9L298.5 188.4L298.8 192.0L299.2 195.5L299.5 199.1L299.9 202.6L300.4 206.2L300.8 209.7L301.2 213.3L301.6 216.8L302.0 220.3L302.5 223.9L302.9 227.4L303.4 230.9L303.9 234.4L304.4 237.9L304.9 241.4L305.5 244.9L306.0 248.4L306.7 251.9L307.3 255.4L307.9 258.8L308.6 262.2L309.3 265.6L310.2 269.0L311.1 272.3" fill="none" stroke="#1a1a1a" stroke-width="1.3" />
<path d="M304.1 108.1L303.8 111.6L303.5 115.2L303.2 118.7L302.9 122.2L302.6 125.7L302.5 129.2L302.3 132.7L302.2 136.3L302.1 139.8L302.1 143.3L302.1 146.8L302.1 150.3L302.1 153.8L302.2 157.3L302.3 160.8L302.4 164.3L302.5 167.8L302.5 171.3L302.5 174.9L302.6 178.4L302.7 182.0L302.9 185.5L303.1 189.1L303.4 192.6L303.7 196.1L304.1 199.7L304.5 203.2L304.9 206.8L305.2 210.3L305.6 213.8L306.0 217.3L306.3 220.9L306.7 224.4L307.1 227.9L307.5 231.4L307.9 234.9L308.3 238.4L308.7 241.9L309.2 245.4L309.6 248.9L310.1 252.4L310.7 255.8L311.2 259.3L311.6 262.7L312.2 266.1L312.8 269.4L313.5 272.7L314.3 275.9L315.1 279.2" fill="none" stroke="#fff" stroke-width="0.7" />
<path d="M303.1 108.1L302.8 111.6L302.5 115.2L302.2 118.7L301.9 122.2L301.6 125.7L301.5 129.2L301.3 132.7L301.2 136.3L301.1 139.8L301.1 143.3L301.1 146.8L301.1 150.3L301.1 153.8L301.2 157.3L301.3 160.8L301.4 164.3L301.5 167.8L301.5 171.3L301.5 174.9L301.6 178.4L301.7 182.0L301.9 185.5L302.1 189.1L302.4 192.6L302.7 196.1L303.1 199.7L303.5 203.2L303.9 206.8L304.2 210.3L304.6 213.8L305.0 217.3L305.3 220.9L305.7 224.4L306.1 227.9L306.5 231.4L306.9 234.9L307.3 238.4L307.7 241.9L308.2 245.4L308.6 248.9L309.1 252.4L309.7 255.8L310.2 259.3L310.6 262.7L311.2 266.1L311.8 269.4L312.5 272.7L313.3 275.9L314.1 279.2" fill="none" stroke="#1a1a1a" stroke-width="1.3" />
<path d="M304.5 144.2L304.6 147.7L304.7 151.2L304.9 154.6L305.1 158.1L305.3 161.6L305.5 165.1L305.7 168.5L305.8 172.1L305.9 175.6L306.0 179.1L306.2 182.6L306.4 186.1L306.7 189.7L307.0 193.2L307.3 196.7L307.7 200.3L308.0 203.8L308.4 207.3L308.7 210.8L309.0 214.4L309.3 217.9L309.7 221.4L310.0 224.9L310.3 228.4L310.6 231.9L310.9 235.4L311.2 238.9L311.5 242.4L311.9 245.9L312.2 249.4L312.6 252.8L313.0 256.3L313.4 259.7L313.7 263.1L314.0 266.5L314.5 269.8" fill="none" stroke="#fff" stroke-width="0.7" />
<path d="M303.5 144.2L303.6 147.7L303.7 151.2L303.9 154.6L304.1 158.1L304.3 161.6L304.5 165.1L304.7 168.5L304.8 172.1L304.9 175.6L305.0 179.1L305.2 182.6L305.4 186.1L305.7 189.7L306.0 193.2L306.3 196.7L306.7 200.3L307.0 203.8L307.4 207.3L307.7 210.8L308.0 214.4L308.3 217.9L308.7 221.4L309.0 224.9L309.3 228.4L309.6 231.9L309.9 235.4L310.2 238.9L310.5 242.4L310.9 245.9L311.2 249.4L311.6 252.8L312.0 256.3L312.4 259.7L312.7 263.1L313.0 266.5L313.5 269.8" fill="none" stroke="#1a1a1a" stroke-width="1.3" />
<path d="M306.4 127.7L306.4 131.2L306.5 134.6L306.6 138.1L306.7 141.6L306.9 145.1L307.1 148.6L307.3 152.0L307.6 155.5L307.9 158.9L308.3 162.4L308.6 165.8L308.9 169.3L309.1 172.8L309.3 176.3L309.5 179.8L309.7 183.3L309.9 186.8L310.2 190.3L310.5 193.8L310.9 197.3L311.2 200.9L311.6 204.4L311.9 207.9L312.2 211.4L312.5 214.9L312.7 218.4L313.0 221.9L313.2 225.4L313.4 229.0L313.6 232.4L313.9 235.9L314.1 239.4L314.3 242.9L314.6 246.4L314.8 249.8L315.1 253.3L315.4 256.7L315.6 260.2L315.7 263.6L315.9 266.9L316.1 270.2L316.4 273.5L316.7 276.7L317.1 280.0" fill="none" stroke="#fff" stroke-width="0.7" />
<path d="M305.4 127.7L305.4 131.2L305.5 134.6L305.6 138.1L305.7 141.6L305.9 145.1L306.1 148.6L306.3 152.0L306.6 155.5L306.9 158.9L307.3 162.4L307.6 165.8L307.9 169.3L308.1 172.8L308.3 176.3L308.5 179.8L308.7 183.3L308.9 186.8L309.2 190.3L309.5 193.8L309.9 197.3L310.2 200.9L310.6 204.4L310.9 207.9L311.2 211.4L311.5 214.9L311.7 218.4L312.0 221.9L312.2 225.4L312.4 229.0L312.6 232.4L312.9 235.9L313.1 239.4L313.3 242.9L313.6 246.4L313.8 249.8L314.1 253.3L314.4 256.7L314.6 260.2L314.7 263.6L314.9 266.9L315.1 270.2L315.4 273.5L315.7 276.7L316.1 280.0" fill="none" stroke="#1a1a1a" stroke-width="1.3" />
<path d="M309.6 149.4L310.0 152.9L310.3 156.3L310.8 159.7L311.3 163.1L311.7 166.6L312.1 170.0L312.4 173.5L312.7 176.9L312.9 180.4L313.2 183.9L313.5 187.4L313.8 190.9L314.1 194.4L314.4 197.9L314.8 201.5L315.1 205.0L315.4 208.5L315.7 212.0L315.9 215.5L316.1 219.0L316.3 222.5L316.4 226.0L316.6 229.5L316.7 233.0L316.9 236.4L317.0 239.9L317.1 243.4L317.3 246.9L317.4 250.3L317.6 253.8L317.7 257.2L317.8 260.6L317.8 264.0L317.7 267.3L317.8 270.6" fill="none" stroke="#fff" stroke-width="0.7" />
<path d="M308.6 149.4L309.0 152.9L309.3 156.3L309.8 159.7L310.3 163.1L310.7 166.6L311.1 170.0L311.4 173.5L311.7 176.9L311.9 180.4L312.2 183.9L312.5 187.4L312.8 190.9L313.1 194.4L313.4 197.9L313.8 201.5L314.1 205.0L314.4 208.5L314.7 212.0L314.9 215.5L315.1 219.0L315.3 222.5L315.4 226.0L315.6 229.5L315.7 233.0L315.9 236.4L316.0 239.9L316.1 243.4L316.3 246.9L316.4 250.3L316.6 253.8L316.7 257.2L316.8 260.6L316.8 264.0L316.7 267.3L316.8 270.6" fill="none" stroke="#1a1a1a" stroke-width="1.3" />
<path d="M310.4 133.1L310.7 136.6L311.0 140.0L311.4 143.4L311.7 146.9L312.1 150.3L312.6 153.7L313.1 157.1L313.6 160.5L314.2 163.9L314.8 167.3L315.3 170.7L315.7 174.2L316.0 177.6L316.4 181.1L316.7 184.6L317.0 188.1L317.4 191.6L317.7 195.0L318.0 198.5L318.3 202.0L318.6 205.5L318.9 209.0L319.1 212.5L319.3 216.0L319.5 219.5L319.6 223.0L319.7 226.5L319.8 230.0L319.8 233.5L319.9 236.9L319.9 240.4L319.9 243.9L320.0 247.3L320.0 250.8L320.1 254.2L320.1 257.7L320.0 261.1L319.8 264.4L319.6 267.7L319.4 271.0L319.3 274.3L319.1 277.5L319.0 280.7" fill="none" stroke="#fff" stroke-width="0.7" />
<path d="M309.4 133.1L309.7 136.6L310.0 140.0L310.4 143.4L310.7 146.9L311.1 150.3L311.6 153.7L312.1 157.1L312.6 160.5L313.2 163.9L313.8 167.3L314.3 170.7L314.7 174.2L315.0 177.6L315.4 181.1L315.7 184.6L316.0 188.1L316.4 191.6L316.7 195.0L317.0 198.5L317.3 202.0L317.6 205.5L317.9 209.0L318.1 212.5L318.3 216.0L318.5 219.5L318.6 223.0L318.7 226.5L318.8 230.0L318.8 233.5L318.9 236.9L318.9 240.4L318.9 243.9L319.0 247.3L319.0 250.8L319.1 254.2L319.1 257.7L319.0 261.1L318.8 264.4L318.6 267.7L318.4 271.0L318.3 274.3L318.1 277.5L318.0 280.7" fill="none" stroke="#1a1a1a" stroke-width="1.3" />
<path d="M314.1 147.8L314.6 151.2L315.2 154.6L315.8 158.0L316.5 161.3L317.2 164.7L317.9 168.1L318.5 171.4L319.0 174.9L319.4 178.3L319.8 181.8L320.2 185.2L320.6 188.7L320.9 192.2L321.3 195.7L321.6 199.1L321.9 202.6L322.2 206.1L322.4 209.6L322.6 213.1L322.7 216.6L322.8 220.1L322.9 223.6L322.9 227.0L322.9 230.5L322.9 234.0L322.9 237.4L322.8 240.9L322.8 244.4L322.7 247.8L322.6 251.3L322.6 254.7L322.5 258.1L322.3 261.5L321.9 264.9L321.4 268.2L321.1 271.4L320.7 274.7" fill="none" stroke="#fff" stroke-width="0.7" />
<path d="M313.1 147.8L313.6 151.2L314.2 154.6L314.8 158.0L315.5 161.3L316.2 164.7L316.9 168.1L317.5 171.4L318.0 174.9L318.4 178.3L318.8 181.8L319.2 185.2L319.6 188.7L319.9 192.2L320.3 195.7L320.6 199.1L320.9 202.6L321.2 206.1L321.4 209.6L321.6 213.1L321.7 216.6L321.8 220.1L321.9 223.6L321.9 227.0L321.9 230.5L321.9 234.0L321.9 237.4L321.8 240.9L321.8 244.4L321.7 247.8L321.6 251.3L321.6 254.7L321.5 258.1L321.3 261.5L320.9 264.9L320.4 268.2L320.1 271.4L319.7 274.7" fill="none" stroke="#1a1a1a" stroke-width="1.3" />
<path d="M312.9 114.4L313.0 117.8L313.2 121.3L313.4 124.7L313.7 128.2L314.0 131.6L314.4 135.1L314.9 138.5L315.4 141.9L316.0 145.3L316.5 148.7L317.2 152.1L317.8 155.4L318.5 158.8L319.3 162.1L320.2 165.5L321.0 168.8L321.7 172.2L322.3 175.6L322.8 179.0L323.3 182.4L323.7 185.9L324.1 189.3L324.5 192.8L324.8 196.3L325.2 199.7L325.5 203.2L325.7 206.7L325.9 210.2L326.1 213.7L326.2 217.1L326.2 220.6L326.2 224.1L326.2 227.6L326.1 231.0L326.0 234.5L325.9 237.9L325.7 241.4L325.6 244.8L325.4 248.3L325.2 251.7L325.0 255.2L324.8 258.6L324.5 262.0L323.9 265.3L323.3 268.6L322.7 271.9L322.1 275.1L321.5 278.3L320.9 281.5" fill="none" stroke="#fff" stroke-width="0.7" />
<path d="M311.9 114.4L312.0 117.8L312.2 121.3L312.4 124.7L312.7 128.2L313.0 131.6L313.4 135.1L313.9 138.5L314.4 141.9L315.0 145.3L315.5 148.7L316.2 152.1L316.8 155.4L317.5 158.8L318.3 162.1L319.2 165.5L320.0 168.8L320.7 172.2L321.3 175.6L321.8 179.0L322.3 182.4L322.7 185.9L323.1 189.3L323.5 192.8L323.8 196.3L324.2 199.7L324.5 203.2L324.7 206.7L324.9 210.2L325.1 213.7L325.2 217.1L325.2 220.6L325.2 224.1L325.2 227.6L325.1 231.0L325.0 234.5L324.9 237.9L324.7 241.4L324.6 244.8L324.4 248.3L324.2 251.7L324.0 255.2L323.8 258.6L323.5 262.0L322.9 265.3L322.3 268.6L321.7 271.9L321.1 275.1L320.5 278.3L319.9 281.5" fill="none" stroke="#1a1a1a" stroke-width="1.3" />
<path d="M317.6 142.8L318.3 146.2L319.0 149.6L319.7 152.9L320.4 156.3L321.3 159.6L322.2 162.9L323.1 166.2L324.1 169.6L324.9 172.9L325.6 176.3L326.2 179.7L326.7 183.1L327.2 186.5L327.6 190.0L328.0 193.4L328.4 196.9L328.7 200.3L329.0 203.8L329.2 207.3L329.4 210.7L329.5 214.2L329.6 217.7L329.6 221.2L329.5 224.6L329.4 228.1L329.3 231.5L329.1 235.0L328.9 238.4L328.6 241.9L328.4 245.3L328.1 248.8L327.8 252.2L327.5 255.6L327.2 259.0L326.7 262.4L326.0 265.7L325.1 269.0L324.4 272.3L323.5 275.5" fill="none" stroke="#fff" stroke-width="0.7" />
<path d="M316.6 142.8L317.3 146.2L318.0 149.6L318.7 152.9L319.4 156.3L320.3 159.6L321.2 162.9L322.1 166.2L323.1 169.6L323.9 172.9L324.6 176.3L325.2 179.7L325.7 183.1L326.2 186.5L326.6 190.0L327.0 193.4L327.4 196.9L327.7 200.3L328.0 203.8L328.2 207.3L328.4 210.7L328.5 214.2L328.6 217.7L328.6 221.2L328.5 224.6L328.4 228.1L328.3 231.5L328.1 235.0L327.9 238.4L327.6 241.9L327.4 245.3L327.1 248.8L326.8 252.2L326.5 255.6L326.2 259.0L325.7 262.4L325.0 265.7L324.1 269.0L323.4 272.3L322.5 275.5" fill="none" stroke="#1a1a1a" stroke-width="1.3" />
<path d="M315.8 116.5L316.1 119.9L316.5 123.3L316.8 126.8L317.3 130.2L317.8 133.6L318.4 137.0L319.1 140.4L319.8 143.8L320.6 147.1L321.4 150.5L322.2 153.8L323.0 157.2L324.0 160.5L325.0 163.7L326.1 167.0L327.1 170.3L328.1 173.6L328.9 177.0L329.5 180.4L330.1 183.8L330.7 187.2L331.2 190.6L331.6 194.1L332.0 197.5L332.3 200.9L332.6 204.4L332.8 207.9L332.9 211.3L333.0 214.8L333.0 218.2L332.9 221.7L332.8 225.2L332.7 228.6L332.4 232.1L332.2 235.5L331.9 239.0L331.5 242.4L331.2 245.8L330.8 249.2L330.4 252.7L330.0 256.1L329.5 259.5L328.9 262.9L328.0 266.2L327.0 269.4L326.0 272.7L325.0 275.9L323.9 279.1L322.8 282.3" fill="none" stroke="#fff" stroke-width="0.7" />
<path d="M314.8 116.5L315.1 119.9L315.5 123.3L315.8 126.8L316.3 130.2L316.8 133.6L317.4 137.0L318.1 140.4L318.8 143.8L319.6 147.1L320.4 150.5L321.2 153.8L322.0 157.2L323.0 160.5L324.0 163.7L325.1 167.0L326.1 170.3L327.1 173.6L327.9 177.0L328.5 180.4L329.1 183.8L329.7 187.2L330.2 190.6L330.6 194.1L331.0 197.5L331.3 200.9L331.6 204.4L331.8 207.9L331.9 211.3L332.0 214.8L332.0 218.2L331.9 221.7L331.8 225.2L331.7 228.6L331.4 232.1L331.2 235.5L330.9 239.0L330.5 242.4L330.2 245.8L329.8 249.2L329.4 252.7L329.0 256.1L328.5 259.5L327.9 262.9L327.0 266.2L326.0 269.4L325.0 272.7L324.0 275.9L322.9 279.1L321.8 282.3" fill="none" stroke="#1a1a1a" stroke-width="1.3" />
<path d="M297.5 93L301 96L306 101L311 107L316.3 116.8L317.3 123L316.5 130L315.3 140L313 150L310.5 160L308 173L305.5 162L303 152L300.6 140L299.4 125L298.6 112L297.8 103Z" fill="#fff" stroke="none" stroke-width="0" />
<path d="M300.0 95.0C300.7 97.5 302.9 103.3 304.0 110.0C305.1 116.7 305.8 125.3 306.5 135.0C307.2 144.7 308.2 162.5 308.5 168.0" fill="none" stroke="#1a1a1a" stroke-width="0.5" />
<path d="M302.0 98.0C303.0 100.3 306.8 105.8 308.0 112.0C309.2 118.2 309.3 127.0 309.5 135.0C309.7 143.0 309.2 155.8 309.2 160.0" fill="none" stroke="#1a1a1a" stroke-width="0.5" />
<path d="M303.0 99.0C304.3 101.2 309.3 108.2 311.0 112.0C312.7 115.8 312.7 120.3 313.0 122.0" fill="none" stroke="#1a1a1a" stroke-width="0.5" />
<path d="M300.0 97.0C300.1 99.2 300.1 104.8 300.5 110.0C300.9 115.2 302.2 125.0 302.5 128.0" fill="none" stroke="#1a1a1a" stroke-width="0.5" />
<path d="M304.0 99.0C305.0 100.2 308.0 103.2 310.0 106.0C312.0 108.8 315.0 114.3 316.0 116.0" fill="none" stroke="#1a1a1a" stroke-width="0.6" />
<path d="M307.3 268.5L309.5 273L312.3 276.5L315 272.5L317.5 274L320.5 269.5L323 270.5L326.5 265.5L329.5 265L327.8 270L322.8 282.7L316.4 299.1L308.8 323.2L306.25 311L310 303.5L311.25 286Z" fill="#fff" stroke="none" stroke-width="0" />
<path d="M298.8 105.0C298.1 109.2 296.0 121.2 295.0 130.0C294.0 138.8 293.1 148.7 292.5 157.5C291.9 166.3 291.0 174.6 291.2 183.0C291.5 191.4 292.5 198.8 293.8 208.0C295.0 217.2 296.9 228.8 298.8 238.0C300.6 247.2 302.9 256.3 305.0 263.0C307.1 269.7 310.2 275.5 311.2 278.0" fill="none" stroke="#1a1a1a" stroke-width="1.6" />
<path d="M316.2 117.5C316.7 120.4 317.4 128.3 318.8 135.0C320.1 141.7 322.4 150.3 324.5 157.5C326.6 164.7 329.5 170.4 331.2 178.0C333.0 185.6 334.4 194.7 335.0 203.0C335.6 211.3 335.6 218.8 335.0 228.0C334.4 237.2 332.4 251.0 331.2 258.0C330.1 265.0 329.2 265.9 327.8 270.0C326.4 274.1 323.6 280.6 322.8 282.7" fill="none" stroke="#1a1a1a" stroke-width="2.2" />
<path d="M296.2 93.8C296.5 94.6 297.6 97.1 298.0 99.0C298.4 100.9 298.6 104.0 298.8 105.0" fill="none" stroke="#1a1a1a" stroke-width="1.6" />
<path d="M322.8 282.7C321.7 285.4 318.7 292.4 316.4 299.1C314.1 305.9 310.1 319.2 308.8 323.2" fill="none" stroke="#1a1a1a" stroke-width="2.1" />
<path d="M311.2 278.0C311.2 279.3 311.5 281.8 311.2 286.0C311.0 290.2 310.8 299.3 310.0 303.5C309.2 307.7 306.9 309.8 306.2 311.0" fill="none" stroke="#1a1a1a" stroke-width="1.1" />
<path d="M306.5 322.0L309.7 316.5" fill="none" stroke="#1a1a1a" stroke-width="0.5" />
<path d="M307.8 318.4L311.0 312.9" fill="none" stroke="#1a1a1a" stroke-width="0.5" />
<path d="M309.1 314.8L312.3 309.3" fill="none" stroke="#1a1a1a" stroke-width="0.5" />
<path d="M310.4 311.2L313.6 305.7" fill="none" stroke="#1a1a1a" stroke-width="0.5" />
<path d="M311.7 307.6L314.9 302.1" fill="none" stroke="#1a1a1a" stroke-width="0.5" />
<path d="M313.0 304.0L316.2 298.5" fill="none" stroke="#1a1a1a" stroke-width="0.5" />
<path d="M314 296L317 290M315.5 299L319 292" fill="none" stroke="#1a1a1a" stroke-width="0.5" />
<path d="M303.8 265.5C303.7 268.9 303.5 280.1 303.5 286.0C303.5 291.9 303.3 297.0 303.5 301.0C303.7 305.0 304.0 308.3 304.5 310.0C305.0 311.7 306.0 310.8 306.2 311.0" fill="none" stroke="#1a1a1a" stroke-width="1.5" />
<path d="M300.3 289.6C300.2 290.7 300.1 294.0 300.0 296.0C299.9 298.0 299.9 299.0 299.7 301.6C299.5 304.2 299.4 309.4 298.7 311.8C298.0 314.2 296.0 315.5 295.5 316.2" fill="none" stroke="#1a1a1a" stroke-width="1.5" />
<path d="M286.9 305.2C286.6 305.1 286.6 304.4 285.4 304.8C284.2 305.2 281.1 305.9 279.7 307.3C278.3 308.7 277.6 310.8 277.2 313.0C276.8 315.2 276.6 318.4 277.2 320.6C277.8 322.8 279.2 324.9 281.0 326.3C282.8 327.7 285.9 329.0 288.0 328.9C290.1 328.8 292.1 327.3 293.6 325.7C295.1 324.1 296.5 321.0 296.8 319.4C297.1 317.8 295.7 316.7 295.5 316.2" fill="none" stroke="#1a1a1a" stroke-width="1.8" />
<path d="M291.7 311.1C291.8 311.2 292.3 311.8 292.5 312.0C292.7 312.2 292.9 312.4 293.0 312.5" fill="none" stroke="#1a1a1a" stroke-width="0.7" />
<path d="M275.5 318.5C275.2 319.1 273.8 320.8 273.8 322.2C273.7 323.7 274.8 326.4 275.0 327.2" fill="none" stroke="#1a1a1a" stroke-width="1.5" />
<path d="M275.0 327.2C274.5 330.2 272.9 339.0 272.0 345.0C271.1 351.0 269.9 360.4 269.5 363.5" fill="none" stroke="#1a1a1a" stroke-width="1.5" />
<path d="M280.0 328.5C280.5 331.2 282.4 340.4 283.0 345.0C283.6 349.6 283.8 350.6 283.8 356.0C283.7 361.4 282.7 373.7 282.5 377.2" fill="none" stroke="#1a1a1a" stroke-width="1.5" />
<path d="M281.2 341.0C281.3 343.3 281.6 350.4 281.6 355.0C281.6 359.6 281.3 366.2 281.2 368.5" fill="none" stroke="#1a1a1a" stroke-width="0.6" />
<path d="M308.8 323.5C308.3 326.8 307.7 336.0 306.2 343.5C304.8 351.0 301.8 362.6 300.0 368.5C298.2 374.4 296.5 377.2 295.8 379.0" fill="none" stroke="#1a1a1a" stroke-width="1.7" />
<path d="M296.25 331L293.75 361" fill="none" stroke="#1a1a1a" stroke-width="0.5" stroke-dasharray="10 2 6 2"/>
<path d="M314.5 295.5L334.8 322.5" fill="none" stroke="#1a1a1a" stroke-width="1.0" />
<path d="M470.8 50.0C470.4 52.9 469.6 62.1 468.8 67.5C467.9 72.9 466.0 78.8 465.8 82.5C465.5 86.2 466.4 87.9 467.5 90.0C468.6 92.1 469.6 93.8 472.5 95.0C475.4 96.2 481.9 96.9 485.0 97.0C488.1 97.1 490.0 96.5 491.2 95.5C492.5 94.5 492.3 92.0 492.5 91.2" fill="none" stroke="#1a1a1a" stroke-width="1.7" />
<path d="M498.8 35.0C498.9 36.7 498.7 41.2 499.5 45.0C500.3 48.8 501.4 53.8 503.8 57.5C506.1 61.2 510.6 64.8 513.8 67.5C516.9 70.2 520.8 72.1 522.5 73.8C524.2 75.4 523.5 76.9 523.8 77.5" fill="none" stroke="#1a1a1a" stroke-width="1.7" />
<path d="M492.5 91.2C493.3 91.0 495.4 89.8 497.5 90.0C499.6 90.2 503.1 92.3 505.0 92.5C506.9 92.7 508.1 91.5 508.8 91.2" fill="none" stroke="#1a1a1a" stroke-width="1.7" />
<path d="M488.8 83.8C489.2 84.3 490.9 85.8 491.5 87.0C492.1 88.2 492.3 90.5 492.5 91.2" fill="none" stroke="#1a1a1a" stroke-width="1.5" />
<path d="M486.2 42.5C486.2 43.8 485.8 47.4 486.0 50.0C486.2 52.6 487.3 55.5 487.5 58.0C487.7 60.5 486.8 62.2 487.0 65.0C487.2 67.8 488.5 73.3 488.8 75.0" fill="none" stroke="#1a1a1a" stroke-width="0.5" />
<path d="M491.2 71.2C492.2 70.8 494.9 68.3 497.0 68.5C499.1 68.7 502.6 71.8 503.8 72.5" fill="none" stroke="#1a1a1a" stroke-width="0.6" />
<path d="M509.5 75.5C509.8 75.8 510.7 76.8 511.0 77.5C511.3 78.2 511.4 79.6 511.5 80.0" fill="none" stroke="#1a1a1a" stroke-width="0.5" />
<path d="M471.2 96.5C471.2 97.2 470.5 99.5 471.0 100.5C471.5 101.5 471.3 102.2 474.0 102.8C476.7 103.3 484.4 104.0 487.0 103.8C489.6 103.5 488.8 102.0 489.5 101.0C490.2 100.0 491.0 98.1 491.2 97.5" fill="none" stroke="#1a1a1a" stroke-width="1.7" />
<path d="M491.2 97.5C491.2 98.8 492.1 102.9 491.2 105.0C490.4 107.1 487.1 109.2 486.2 110.0" fill="none" stroke="#1a1a1a" stroke-width="1.8" />
<path d="M473.8 102.8C473.8 105.2 474.4 110.9 473.8 117.5C473.1 124.1 471.1 135.8 470.0 142.5C468.9 149.2 468.5 150.4 467.0 158.0C465.5 165.6 462.8 177.6 461.2 188.0C459.7 198.4 458.5 208.8 457.5 220.5C456.5 232.2 456.0 248.2 455.0 258.0C454.0 267.8 451.7 274.7 451.2 279.5C450.8 284.3 452.3 285.8 452.5 287.0" fill="none" stroke="#1a1a1a" stroke-width="1.7" />
<path d="M486.2 110.0C486.1 111.2 485.5 114.1 485.5 117.0C485.5 119.9 486.8 122.8 486.2 127.5C485.8 132.2 483.5 139.9 482.5 145.0C481.5 150.1 481.2 151.7 480.0 158.0C478.8 164.3 476.3 173.8 475.0 183.0C473.7 192.2 472.6 202.6 472.0 213.0C471.4 223.4 471.0 235.1 471.2 245.5C471.5 255.9 473.3 270.5 473.8 275.5" fill="none" stroke="#1a1a1a" stroke-width="1.6" />
<path d="M482.9 147L480.2 158.5L482.6 158.5Z" fill="#1a1a1a" stroke="#1a1a1a" stroke-width="1.4" />
<path d="M481.0 158.0C481.5 158.8 482.8 158.8 483.8 163.0C484.8 167.2 486.6 175.5 487.0 183.0C487.4 190.5 487.0 198.4 486.2 208.0C485.5 217.6 482.9 230.9 482.5 240.5C482.1 250.1 483.5 261.3 483.8 265.5" fill="none" stroke="#1a1a1a" stroke-width="1.5" />
<path d="M501.2 170.0C501.0 174.2 500.8 185.0 500.0 195.5C499.2 206.0 497.5 221.8 496.2 233.0C495.0 244.2 493.5 255.2 492.5 263.0C491.5 270.8 490.8 275.7 490.0 279.5C489.2 283.3 487.9 284.7 487.5 285.8" fill="none" stroke="#1a1a1a" stroke-width="1.7" />
<path d="M493.8 111.2C493.4 112.7 492.1 116.9 491.5 120.0C490.9 123.1 490.2 128.3 490.0 130.0" fill="none" stroke="#1a1a1a" stroke-width="0.5" />
<path d="M495.0 113.0L493.0 121.0" fill="none" stroke="#1a1a1a" stroke-width="0.5" />
<path d="M490.5 128L490.8 141" fill="none" stroke="#1a1a1a" stroke-width="0.5" stroke-dasharray="4 1.5 2 1.5"/>
<path d="M452.5 287.0C453.5 286.8 456.2 286.4 458.8 285.8C461.2 285.1 466.0 283.7 467.5 283.2" fill="none" stroke="#1a1a1a" stroke-width="1.7" />
<path d="M487.5 285.8C486.9 285.6 485.2 285.4 484.0 285.0C482.8 284.6 480.7 283.5 480.0 283.2" fill="none" stroke="#1a1a1a" stroke-width="1.7" />
<path d="M522.3 76.0L522.3 77.5L522.3 79.0L522.2 80.5L522.1 82.0L522.1 83.5L522.0 85.0L521.9 86.5L521.8 88.0L521.7 89.5L521.5 91.0L521.4 92.5L521.2 94.0L521.0 95.5L520.7 97.0L520.5 98.5L520.2 100.0L520.0 101.5L519.7 103.0L519.4 104.5L519.1 106.0L518.8 107.5L518.5 109.0L518.2 110.5L517.9 112.0L517.6 113.5L517.2 115.0L516.9 116.5L516.5 118.0L516.2 119.5L515.8 121.0L515.4 122.5L515.0 124.0L514.6 125.5L514.1 127.0L513.7 128.5L513.2 130.0L512.7 131.5L512.2 133.0L511.7 134.5L511.2 136.0L510.7 137.5L510.2 139.0L509.6 140.5L509.1 142.0L508.5 143.5L507.9 145.0L507.2 146.5L506.6 148.0L505.9 149.5L505.3 151.0L504.6 152.5L504.0 154.0L503.3 155.5L502.7 157.0L502.1 158.5L501.5 160.0" fill="none" stroke="#9cc6b8" stroke-width="1.2" stroke-linecap="butt"/>
<path d="M519.4 80.5L519.3 82.0L519.3 83.5L519.2 85.0L519.1 86.5L519.0 88.0L518.9 89.5L518.7 91.0L518.6 92.5L518.4 94.0L518.2 95.5L517.9 97.0L517.7 98.5L517.4 100.0L517.2 101.5L516.9 103.0L516.6 104.5L516.3 106.0L516.0 107.5L515.7 109.0L515.4 110.5L515.1 112.0L514.8 113.5L514.4 115.0L514.1 116.5L513.7 118.0L513.4 119.5L513.0 121.0L512.6 122.5L512.2 124.0L511.8 125.5L511.3 127.0L510.9 128.5L510.4 130.0L509.9 131.5L509.4 133.0L508.9 134.5L508.4 136.0L507.9 137.5L507.4 139.0L506.8 140.5L506.3 142.0L505.7 143.5L505.1 145.0L504.4 146.5L503.8 148.0L503.1 149.5L502.5 151.0L501.8 152.5L501.2 154.0L500.5 155.5" fill="none" stroke="#9cc6b8" stroke-width="1.2" stroke-linecap="butt"/>
<path d="M516.3 86.5L516.2 88.0L516.1 89.5L515.9 91.0L515.8 92.5L515.6 94.0L515.4 95.5L515.1 97.0L514.9 98.5L514.6 100.0L514.4 101.5L514.1 103.0L513.8 104.5L513.5 106.0L513.2 107.5L512.9 109.0L512.6 110.5L512.3 112.0L512.0 113.5L511.6 115.0L511.3 116.5L510.9 118.0L510.6 119.5L510.2 121.0L509.8 122.5L509.4 124.0L509.0 125.5L508.5 127.0L508.1 128.5L507.6 130.0L507.1 131.5L506.6 133.0L506.1 134.5L505.6 136.0L505.1 137.5L504.6 139.0L504.0 140.5L503.5 142.0L502.9 143.5L502.3 145.0L501.6 146.5" fill="none" stroke="#9cc6b8" stroke-width="1.2" stroke-linecap="butt"/>
<path d="M512.8 94.0L512.6 95.5L512.3 97.0L512.1 98.5L511.8 100.0L511.6 101.5L511.3 103.0L511.0 104.5L510.7 106.0L510.4 107.5L510.1 109.0L509.8 110.5L509.5 112.0L509.2 113.5L508.8 115.0L508.5 116.5L508.1 118.0L507.8 119.5L507.4 121.0L507.0 122.5L506.6 124.0L506.2 125.5L505.7 127.0L505.3 128.5L504.8 130.0L504.3 131.5L503.8 133.0L503.3 134.5" fill="none" stroke="#9cc6b8" stroke-width="1.2" stroke-linecap="butt"/>
<path d="M521.0 77.5L520.9 79.0L520.9 80.5L520.8 82.0L520.7 83.5L520.7 85.0L520.6 86.5L520.5 88.0L520.3 89.5L520.2 91.0L520.0 92.5L519.8 94.0L519.6 95.5L519.4 97.0L519.1 98.5L518.9 100.0L518.6 101.5L518.3 103.0L518.0 104.5L517.8 106.0L517.5 107.5L517.2 109.0L516.9 110.5L516.5 112.0L516.2 113.5L515.9 115.0L515.5 116.5L515.2 118.0L514.8 119.5L514.4 121.0L514.0 122.5L513.6 124.0L513.2 125.5L512.8 127.0L512.3 128.5L511.9 130.0L511.4 131.5L510.9 133.0L510.4 134.5L509.9 136.0L509.3 137.5L508.8 139.0L508.3 140.5L507.7 142.0L507.1 143.5L506.5 145.0L505.9 146.5L505.3 148.0L504.6 149.5L503.9 151.0L503.3 152.5L502.6 154.0L502.0 155.5L501.4 157.0L500.7 158.5L500.1 160.0" fill="none" stroke="#1a1a1a" stroke-width="1.15" />
<path d="M518.0 82.0L517.9 83.5L517.9 85.0L517.8 86.5L517.7 88.0L517.5 89.5L517.4 91.0L517.2 92.5L517.0 94.0L516.8 95.5L516.6 97.0L516.3 98.5L516.1 100.0L515.8 101.5L515.5 103.0L515.2 104.5L515.0 106.0L514.7 107.5L514.4 109.0L514.1 110.5L513.7 112.0L513.4 113.5L513.1 115.0L512.7 116.5L512.4 118.0L512.0 119.5L511.6 121.0L511.2 122.5L510.8 124.0L510.4 125.5L510.0 127.0L509.5 128.5L509.1 130.0L508.6 131.5L508.1 133.0L507.6 134.5L507.1 136.0L506.5 137.5L506.0 139.0L505.5 140.5L504.9 142.0L504.3 143.5L503.7 145.0L503.1 146.5L502.5 148.0L501.8 149.5L501.1 151.0L500.5 152.5" fill="none" stroke="#1a1a1a" stroke-width="1.15" />
<path d="M514.9 88.0L514.7 89.5L514.6 91.0L514.4 92.5L514.2 94.0L514.0 95.5L513.8 97.0L513.5 98.5L513.3 100.0L513.0 101.5L512.7 103.0L512.4 104.5L512.2 106.0L511.9 107.5L511.6 109.0L511.3 110.5L510.9 112.0L510.6 113.5L510.3 115.0L509.9 116.5L509.6 118.0L509.2 119.5L508.8 121.0L508.4 122.5L508.0 124.0L507.6 125.5L507.2 127.0L506.7 128.5L506.3 130.0L505.8 131.5L505.3 133.0L504.8 134.5L504.3 136.0L503.7 137.5L503.2 139.0L502.7 140.5L502.1 142.0" fill="none" stroke="#1a1a1a" stroke-width="1.15" />
<path d="M510.7 98.5L510.5 100.0L510.2 101.5L509.9 103.0L509.6 104.5L509.4 106.0L509.1 107.5L508.8 109.0L508.5 110.5L508.1 112.0L507.8 113.5L507.5 115.0L507.1 116.5L506.8 118.0L506.4 119.5L506.0 121.0L505.6 122.5L505.2 124.0L504.8 125.5L504.4 127.0L503.9 128.5" fill="none" stroke="#1a1a1a" stroke-width="1.15" />
<path d="M522.5 74.5C521.5 76.0 518.5 79.1 516.2 83.8C514.0 88.4 510.8 95.6 508.8 102.5C506.7 109.4 505.0 118.3 503.8 125.0C502.5 131.7 502.0 137.5 501.2 142.5C500.5 147.5 499.9 151.9 499.5 155.0C499.1 158.1 498.9 160.0 498.8 161.0" fill="none" stroke="#1a1a1a" stroke-width="1.8" />
<path d="M523.8 78.8C523.5 81.5 523.5 88.1 522.5 95.0C521.5 101.9 519.4 112.5 517.5 120.0C515.6 127.5 513.3 134.2 511.2 140.0C509.2 145.8 506.5 151.5 505.0 155.0C503.5 158.5 502.9 160.0 502.5 161.0" fill="none" stroke="#1a1a1a" stroke-width="2.3" />
<path d="M498.8 161.0C497.7 164.7 494.6 174.3 492.5 183.0C490.4 191.7 488.3 202.6 486.2 213.0C484.2 223.4 481.8 236.0 480.0 245.5C478.2 255.0 476.8 261.0 475.5 270.0C474.2 279.0 473.0 294.6 472.5 299.5" fill="none" stroke="#1a1a1a" stroke-width="1.7" />
<path d="M502.5 161.0C501.5 165.5 498.5 178.1 496.2 188.0C494.0 197.9 491.0 209.7 488.8 220.5C486.5 231.3 484.2 243.4 482.5 253.0C480.8 262.6 479.6 270.2 478.5 278.0C477.4 285.8 476.4 296.3 476.0 300.0" fill="none" stroke="#1a1a1a" stroke-width="1.7" />
<ellipse cx="460.3" cy="293.0" rx="9.0" ry="5.3" transform="rotate(-38 460.3 293.0)" fill="#fff" stroke="#1a1a1a" stroke-width="1.7"/>
<path d="M441.0 305.8C440.4 304.7 441.1 303.6 442.3 302.8C443.5 302.1 446.1 301.3 448.0 301.3C449.9 301.3 452.7 301.7 453.8 302.6C454.9 303.5 454.9 304.9 454.5 306.5C454.1 308.1 452.7 311.6 451.3 312.0C449.9 312.4 447.7 310.2 446.0 309.2C444.3 308.2 441.6 306.9 441.0 305.8Z" fill="#fff" stroke="#1a1a1a" stroke-width="1.7" />
<ellipse cx="457.8" cy="307.8" rx="4.2" ry="5.4" transform="rotate(18 457.8 307.8)" fill="#fff" stroke="#1a1a1a" stroke-width="1.7"/>
<ellipse cx="482.8" cy="290.3" rx="4.8" ry="3.8" transform="rotate(25 482.8 290.3)" fill="#fff" stroke="#1a1a1a" stroke-width="1.7"/>
<ellipse cx="486.2" cy="299.6" rx="4.6" ry="4.0" transform="rotate(-20 486.2 299.6)" fill="#fff" stroke="#1a1a1a" stroke-width="1.7"/>
<ellipse cx="482.4" cy="304.4" rx="4.0" ry="3.6" transform="rotate(10 482.4 304.4)" fill="#fff" stroke="#1a1a1a" stroke-width="1.7"/>
<ellipse cx="489.2" cy="308.8" rx="4.0" ry="4.2" transform="rotate(0 489.2 308.8)" fill="#fff" stroke="#1a1a1a" stroke-width="1.7"/>
<path d="M440.8 306.0C439.8 307.2 437.1 310.3 435.0 313.0C432.9 315.7 430.5 319.3 428.5 322.0C426.5 324.7 424.1 327.8 423.1 329.4C422.1 331.0 422.6 331.4 422.5 331.8" fill="none" stroke="#1a1a1a" stroke-width="1.7" />
<path d="M451.2 312.0C450.2 313.1 447.4 316.3 445.3 318.6C443.2 320.9 440.7 322.8 438.7 325.6C436.7 328.5 434.5 333.7 433.5 335.7C432.5 337.7 432.8 337.1 432.6 337.4" fill="none" stroke="#1a1a1a" stroke-width="1.7" />
<path d="M422.5 332.0C423.3 332.7 425.7 335.4 427.4 336.3C429.1 337.2 431.7 337.2 432.6 337.4" fill="none" stroke="#1a1a1a" stroke-width="1.7" />
<path d="M422.3 333.5C422.1 334.1 421.6 335.3 421.0 337.0C420.4 338.7 418.8 342.4 418.4 343.5" fill="none" stroke="#1a1a1a" stroke-width="1.7" />
<path d="M431.5 338.0C431.0 338.7 429.6 340.5 428.5 342.0C427.4 343.5 425.4 346.2 424.8 347.0" fill="none" stroke="#1a1a1a" stroke-width="1.7" />
<path d="M452.0 315.0C451.7 316.3 450.4 319.7 450.0 323.0C449.6 326.3 449.4 331.1 449.3 335.0C449.2 338.9 449.9 342.8 449.7 346.1C449.5 349.4 448.6 352.5 448.2 355.0C447.8 357.5 447.2 359.0 447.4 360.9C447.6 362.8 449.0 364.8 449.2 366.1C449.4 367.4 448.3 367.2 448.3 368.5C448.3 369.8 448.6 371.8 449.2 374.0C449.8 376.2 451.4 380.5 451.8 381.8" fill="none" stroke="#1a1a1a" stroke-width="1.7" />
<path d="M455.6 346.0C456.0 346.3 457.3 346.5 457.9 348.0C458.5 349.5 458.6 352.9 459.0 355.0C459.4 357.1 460.5 359.0 460.5 360.9C460.5 362.8 459.0 364.9 458.9 366.1C458.8 367.3 459.8 366.7 460.1 368.0C460.4 369.3 460.6 371.9 460.5 374.0C460.4 376.1 459.5 379.8 459.3 380.9" fill="none" stroke="#1a1a1a" stroke-width="1.7" />
<path d="M449.2 366.1C450.1 366.4 452.8 367.9 454.4 367.9C456.0 367.9 458.1 366.4 458.9 366.1" fill="none" stroke="#1a1a1a" stroke-width="1.7" />
<path d="M467.4 337.4C467.6 338.7 468.2 342.7 468.4 345.0C468.6 347.3 468.8 348.4 468.8 351.3C468.8 354.2 468.1 360.2 468.3 362.6C468.5 365.0 469.9 364.7 470.0 365.6C470.1 366.5 469.1 366.6 469.2 368.0C469.3 369.4 470.2 371.7 470.9 374.0C471.6 376.3 473.1 380.5 473.5 381.8" fill="none" stroke="#1a1a1a" stroke-width="1.7" />
<path d="M477.0 339.1C477.2 340.1 477.7 343.0 478.0 345.0C478.3 347.0 478.3 348.5 478.8 351.3C479.3 354.1 480.9 359.4 481.0 361.8C481.1 364.2 479.5 364.7 479.6 365.6C479.7 366.6 481.1 366.1 481.4 367.5C481.7 368.9 481.8 371.5 481.6 374.0C481.5 376.5 480.7 381.2 480.5 382.7" fill="none" stroke="#1a1a1a" stroke-width="1.7" />
<path d="M470.0 365.6C470.9 365.5 473.7 364.7 475.3 364.7C476.9 364.7 478.9 365.5 479.6 365.6" fill="none" stroke="#1a1a1a" stroke-width="1.7" />
<path d="M483.1 339.1C483.3 340.1 483.9 343.2 484.2 345.0C484.5 346.8 484.6 347.8 484.8 349.6C485.1 351.4 485.4 354.4 485.7 355.7C486.0 357.0 486.8 356.9 486.9 357.6C487.0 358.3 486.4 358.4 486.6 360.0C486.8 361.6 487.4 364.5 488.0 367.0C488.6 369.5 490.0 373.5 490.4 374.8" fill="none" stroke="#1a1a1a" stroke-width="1.7" />
<path d="M490.9 335.7C491.1 336.6 491.9 339.3 492.4 341.0C492.8 342.7 493.0 343.8 493.6 346.1C494.2 348.4 495.9 352.9 496.2 354.8C496.5 356.7 495.2 356.8 495.3 357.6C495.4 358.4 496.2 358.1 496.5 359.5C496.8 360.9 496.9 363.4 497.0 366.1C497.1 368.8 497.0 374.1 497.0 375.7" fill="none" stroke="#1a1a1a" stroke-width="1.7" />
<path d="M486.9 357.6C487.7 357.5 490.1 356.7 491.5 356.7C492.9 356.7 494.7 357.5 495.3 357.6" fill="none" stroke="#1a1a1a" stroke-width="1.7" />
<path d="M491.0 313.0C491.4 313.8 492.6 316.0 493.5 318.0C494.4 320.0 495.6 322.2 496.5 325.2C497.4 328.1 498.1 332.2 498.8 335.7C499.5 339.2 500.1 344.0 500.5 346.1C500.9 348.2 501.4 347.4 501.4 348.1C501.4 348.8 500.4 349.1 500.5 350.5C500.6 351.9 501.6 354.6 502.3 356.6C503.0 358.6 504.5 361.6 504.9 362.6" fill="none" stroke="#1a1a1a" stroke-width="1.7" />
<path d="M495.5 311.5C496.1 312.4 497.9 315.0 499.0 317.0C500.1 319.0 501.2 320.4 502.3 323.5C503.4 326.6 504.2 332.1 505.4 335.7C506.5 339.3 508.7 343.1 509.2 345.2C509.7 347.3 508.1 347.4 508.3 348.1C508.5 348.8 509.7 348.1 510.1 349.5C510.6 350.9 510.8 354.0 511.0 356.6C511.2 359.2 511.4 363.9 511.5 365.3" fill="none" stroke="#1a1a1a" stroke-width="1.7" />
<path d="M501.4 348.1C502.0 348.0 503.8 347.3 504.9 347.3C506.0 347.3 507.7 348.0 508.3 348.1" fill="none" stroke="#1a1a1a" stroke-width="1.7" />
<path d="M491.0 313.0C491.3 312.7 492.2 311.2 493.0 311.0C493.8 310.8 495.1 311.4 495.5 311.5" fill="none" stroke="#1a1a1a" stroke-width="1.7" />
<path d="M467.7 305.0Q462.3 312.4 454.6 319.8" fill="none" stroke="#1a1a1a" stroke-width="0.7" />
<path d="M469.4 307.6Q463.8 315.9 455.8 324.2" fill="none" stroke="#1a1a1a" stroke-width="0.7" />
<path d="M468.5 309.0Q464.4 318.5 458.0 328.0" fill="none" stroke="#1a1a1a" stroke-width="0.7" />
<path d="M469.4 319.0Q463.8 332.9 455.8 346.9" fill="none" stroke="#1a1a1a" stroke-width="0.7" />
<path d="M470.3 322.4Q467.6 331.2 462.4 340.0" fill="none" stroke="#1a1a1a" stroke-width="0.7" />
<path d="M470.5 316.0Q465.9 327.0 459.0 338.0" fill="none" stroke="#1a1a1a" stroke-width="0.7" />
<path d="M471.2 324.2Q471.9 332.1 470.3 340.0" fill="none" stroke="#1a1a1a" stroke-width="0.7" />
<path d="M472.0 324.2Q473.0 332.1 476.4 340.0" fill="none" stroke="#1a1a1a" stroke-width="0.7" />
<path d="M471.0 312.0Q469.7 323.0 466.0 334.0" fill="none" stroke="#1a1a1a" stroke-width="0.7" />
<path d="M472.5 313.0Q471.8 324.5 473.5 336.0" fill="none" stroke="#1a1a1a" stroke-width="0.7" />
<path d="M474.7 307.6Q478.8 321.1 485.2 334.7" fill="none" stroke="#1a1a1a" stroke-width="0.7" />
<path d="M475.6 313.7Q480.1 325.9 486.9 338.2" fill="none" stroke="#1a1a1a" stroke-width="0.7" />
<path d="M474.0 315.0Q476.3 326.0 481.0 337.0" fill="none" stroke="#1a1a1a" stroke-width="0.7" />
<path d="M473.5 318.0Q474.8 330.5 478.5 343.0" fill="none" stroke="#1a1a1a" stroke-width="0.7" />
<path d="M476.4 309.0Q481.5 320.0 489.0 331.0" fill="none" stroke="#1a1a1a" stroke-width="0.7" />
<path d="M468.0 312.0Q461.4 321.5 452.5 331.0" fill="none" stroke="#1a1a1a" stroke-width="0.7" />
<path d="M469.0 314.0Q463.7 324.5 456.0 335.0" fill="none" stroke="#1a1a1a" stroke-width="0.7" />
<path d="M472.0 328.0Q471.8 336.5 474.0 345.0" fill="none" stroke="#1a1a1a" stroke-width="0.7" />
<path d="M470.0 330.0Q469.4 337.0 466.5 344.0" fill="none" stroke="#1a1a1a" stroke-width="0.7" />
<path d="M455.2 347.3L457.2 343.5" fill="none" stroke="#1a1a1a" stroke-width="1.6" />
<path d="M472.5 299.5C472.4 300.1 471.8 301.6 472.0 303.0C472.2 304.4 473.5 306.8 473.8 307.6" fill="none" stroke="#1a1a1a" stroke-width="1.8" />
<path d="M476.4 305.0C477.0 306.5 478.2 310.7 480.0 314.0C481.8 317.3 484.2 322.0 487.0 325.0C489.8 328.0 494.9 330.9 496.5 332.1" fill="none" stroke="#1a1a1a" stroke-width="1.9" />
<path d="M479.9 317.2C480.9 318.2 483.7 321.4 486.0 323.0C488.3 324.6 492.6 326.2 493.9 326.8" fill="none" stroke="#1a1a1a" stroke-width="1.6" />
<path d="M486.9 313.7C487.6 314.9 489.2 318.4 491.0 321.0C492.8 323.6 496.3 328.0 497.4 329.4" fill="none" stroke="#1a1a1a" stroke-width="0.7" />
<path d="M474.5 303.0C474.9 303.8 476.2 306.5 477.0 308.0C477.8 309.5 478.7 311.3 479.0 312.0" fill="none" stroke="#1a1a1a" stroke-width="1.7" />
<path d="M504.4 292.4L468.6 315.8" fill="none" stroke="#1a1a1a" stroke-width="1.0" />
</svg>
<div class="lbl" style="left:165.5px;top:194.5px;">Direct</div>
<div class="lbl" style="left:323px;top:325.5px;">Tendon</div>
<div class="lbl" style="left:499px;top:274.5px;">Aponeurosis</div>
<div class="sub" style="left:72px;top:393px;"><b>A.</b> Coracobrachialis</div>
<div class="sub" style="left:243px;top:393px;"><b>B.</b> Long head-triceps</div>
<div class="sub" style="left:410px;top:393px;"><b>C.</b> Palmaris longus</div>
<div class="fig">FIGURE</div><div class="fig" style="left:102.5px;letter-spacing:3.7px;">3-11</div>
<div class="cap" style="left:148.75px;top:421px;">A muscle can attach directly into the bone <b>(A)</b> or indirectly</div>
<div class="cap" style="left:42.5px;top:444px;">via a tendon <b>(B)</b> or aponeurosis <b>(C).</b></div>
</body>
</html>
